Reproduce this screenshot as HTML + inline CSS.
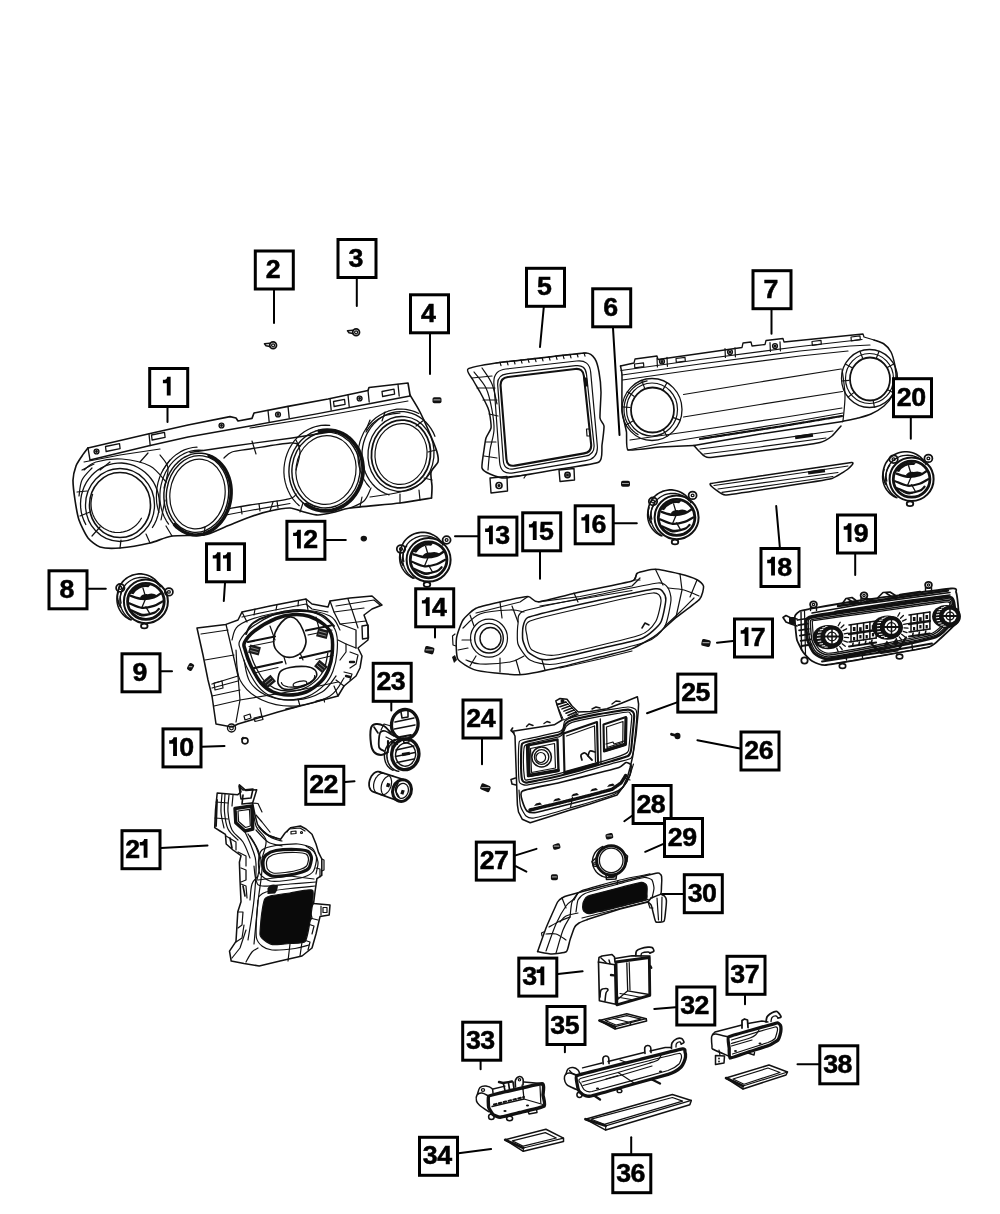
<!DOCTYPE html>
<html><head><meta charset="utf-8"><title>Instrument panel trim</title>
<style>
html,body{margin:0;padding:0;background:#fff;}
svg{display:block;will-change:transform;}
.n{font-family:"Liberation Sans",sans-serif;font-weight:bold;font-size:25px;text-anchor:middle;fill:#000;stroke:#000;stroke-width:0.5px;}
.m{letter-spacing:-0.6px;}
path,line,ellipse{stroke-linejoin:round;stroke-linecap:round;}
</style></head>
<body>
<svg width="1000" height="1214" viewBox="0 0 1000 1214">
<rect width="1000" height="1214" fill="#fff"/>
<path d="M88.0 448.0 L148.0 434.0 L188.0 425.0 L230.0 416.6 L236.0 418.0 L238.0 421.0 L252.0 418.4 L254.0 413.0 L288.0 406.4 L328.0 399.0 L368.0 390.5 L369.0 387.5 L408.0 383.0 L410.0 395.0" fill="none" stroke="#111" stroke-width="1.65" />
<path d="M410.0 395.0 C411.2 397.0 417.7 407.4 420.0 412.0 C422.3 416.6 428.0 429.3 430.0 434.0 C432.0 438.7 436.1 448.7 437.0 452.0 C437.9 455.3 438.7 459.7 438.0 462.0 C437.3 464.3 431.7 469.2 431.0 472.0 C430.3 474.8 431.9 483.0 432.0 486.0 C432.1 489.0 431.6 496.6 431.5 498.0" fill="none" stroke="#111" stroke-width="1.65"/>
<path d="M431.5 498.0 C427.8 498.6 409.5 501.8 400.0 503.0 C390.5 504.2 357.6 506.9 350.0 508.0 C342.4 509.1 338.7 511.2 335.0 512.0 C331.3 512.8 321.6 515.0 318.0 515.0 C314.4 515.0 307.3 512.8 304.0 512.0 C300.7 511.2 294.0 508.1 290.0 508.0 C286.0 507.9 274.7 509.9 270.0 511.0 C265.3 512.0 255.2 515.1 250.0 517.0 C244.8 518.9 230.4 524.9 225.0 527.0 C219.6 529.1 210.2 534.0 204.0 535.0 C197.8 536.0 178.3 535.1 172.0 536.0 C165.7 536.9 156.1 541.6 150.0 543.0 C143.9 544.4 125.8 547.5 120.0 548.0 C114.2 548.5 103.7 548.2 100.0 547.0 C96.3 545.8 90.5 541.1 88.0 538.0 C85.5 534.9 80.5 524.4 79.0 520.0 C77.5 515.6 75.7 504.7 75.0 500.0 C74.3 495.3 72.9 484.0 73.0 480.0 C73.1 476.0 75.0 468.8 76.0 466.0 C77.0 463.2 80.6 458.1 82.0 456.0 C83.4 453.9 87.3 448.9 88.0 448.0" fill="none" stroke="#111" stroke-width="1.65"/>
<path d="M90.0 460.0 L148.0 446.0 L188.0 437.0 L250.0 426.0 L318.0 413.6 L368.0 404.0 L410.0 396.0" fill="none" stroke="#111" stroke-width="1.42" />
<path d="M88.0 448.0 L90.0 460.0" fill="none" stroke="#111" stroke-width="1.42" />
<line x1="149.0" y1="434.0" x2="150.2" y2="445.5" stroke="#111" stroke-width="1.3"/>
<line x1="268.0" y1="410.5" x2="269.2" y2="422.0" stroke="#111" stroke-width="1.3"/>
<line x1="288.0" y1="406.4" x2="289.2" y2="417.9" stroke="#111" stroke-width="1.3"/>
<line x1="330.0" y1="398.6" x2="331.2" y2="410.1" stroke="#111" stroke-width="1.3"/>
<line x1="348.0" y1="395.0" x2="349.2" y2="406.5" stroke="#111" stroke-width="1.3"/>
<line x1="368.0" y1="390.5" x2="369.2" y2="402.0" stroke="#111" stroke-width="1.3"/>
<line x1="398.0" y1="384.5" x2="399.2" y2="396.0" stroke="#111" stroke-width="1.3"/>
<path d="M105.5 446.5 L119.5 443.7 L120.1 448.7 L106.1 451.5Z" fill="none" stroke="#111" stroke-width="1.3" />
<path d="M151.5 435.0 L164.5 432.4 L165.1 437.4 L152.1 440.0Z" fill="none" stroke="#111" stroke-width="1.3" />
<path d="M333.5 401.5 L344.5 399.3 L345.1 404.3 L334.1 406.5Z" fill="none" stroke="#111" stroke-width="1.3" />
<path d="M382.0 391.5 L394.0 389.1 L394.6 394.1 L382.6 396.5Z" fill="none" stroke="#111" stroke-width="1.3" />
<ellipse cx="96.5" cy="451.5" rx="2.4" ry="2.4" fill="none" stroke="#111" stroke-width="1.42"/>
<ellipse cx="96.5" cy="451.5" rx="0.8" ry="0.8" fill="#111" stroke="#111" stroke-width="1.2"/>
<ellipse cx="221.5" cy="425.5" rx="2.4" ry="2.4" fill="none" stroke="#111" stroke-width="1.42"/>
<ellipse cx="221.5" cy="425.5" rx="0.8" ry="0.8" fill="#111" stroke="#111" stroke-width="1.2"/>
<ellipse cx="278.0" cy="414.5" rx="2.4" ry="2.4" fill="none" stroke="#111" stroke-width="1.42"/>
<ellipse cx="278.0" cy="414.5" rx="0.8" ry="0.8" fill="#111" stroke="#111" stroke-width="1.2"/>
<ellipse cx="359.6" cy="398.5" rx="2.4" ry="2.4" fill="none" stroke="#111" stroke-width="1.42"/>
<ellipse cx="359.6" cy="398.5" rx="0.8" ry="0.8" fill="#111" stroke="#111" stroke-width="1.2"/>
<path d="M190.0 452.5 L230.0 446.5 L292.0 438.0 L330.0 432.0" fill="none" stroke="#111" stroke-width="1.3" />
<path d="M84.0 462.0 L120.0 455.0 L160.0 449.0" fill="none" stroke="#111" stroke-width="1.2" />
<path d="M224.0 458.0 C225.3 457.0 227.7 453.5 232.0 452.0 C236.3 450.5 240.3 450.5 250.0 449.0 C259.7 447.5 281.7 443.5 290.0 443.0 C298.3 442.5 298.3 445.5 300.0 446.0" fill="none" stroke="#111" stroke-width="1.3"/>
<path d="M230.0 508.5 C233.3 507.9 240.2 506.6 250.0 505.0 C259.8 503.4 281.3 500.6 289.0 498.8 C296.7 497.0 294.8 494.8 296.0 494.0" fill="none" stroke="#111" stroke-width="1.3"/>
<path d="M226.0 515.0 C230.0 514.2 239.3 512.4 250.0 510.5 C260.7 508.6 283.3 504.7 290.0 503.5" fill="none" stroke="#111" stroke-width="1.2"/>
<path d="M252.0 441.0 L256.0 454.0" fill="none" stroke="#111" stroke-width="1.2" />
<path d="M241.0 507.0 L242.0 514.0" fill="none" stroke="#111" stroke-width="1.2" />
<path d="M259.0 504.0 L260.0 511.0" fill="none" stroke="#111" stroke-width="1.2" />
<path d="M277.0 501.0 L278.0 508.0" fill="none" stroke="#111" stroke-width="1.2" />
<path d="M250.0 428.0 L318.0 417.0 L368.0 408.0 L408.0 401.0" fill="none" stroke="#111" stroke-width="1.2" />
<ellipse cx="120.0" cy="505.0" rx="30.5" ry="32.5" fill="none" stroke="#111" stroke-width="1.65"/>
<ellipse cx="120.0" cy="505.0" rx="34.5" ry="36.5" fill="none" stroke="#111" stroke-width="1.3"/>
<path d="M85.8 524.5 L83.9 520.6 L82.4 516.5 L81.3 512.3 L80.7 507.9 L80.5 503.6 L80.8 499.2 L81.5 494.9 L82.7 490.7 L84.2 486.6 L86.2 482.7 L88.6 479.1 L91.3 475.8 L94.4 472.8 L97.8 470.1 L101.4 467.8 L105.2 466.0 L109.2 464.6 L113.3 463.6 L117.5 463.1 L121.7 463.0 L125.9 463.5 L130.1 464.4 L134.1 465.7 L137.9 467.5 L141.6 469.7 L145.0 472.2 L148.1 475.2 L150.9 478.5 L153.4 482.0 L155.4 485.9 L157.1 489.9 L158.3 494.1 L159.1 498.4 L159.5 502.7 L159.4 507.1 L158.8 511.5 L157.8 515.7 L156.4 519.9 L154.6 523.8 L152.4 527.5" fill="none" stroke="#111" stroke-width="1.3" />
<path d="M141.4 518.2 L139.8 520.8 L138.0 523.1 L136.0 525.3 L133.8 527.1 L131.4 528.8 L128.8 530.1 L126.1 531.2 L123.3 531.9 L120.5 532.4 L117.7 532.5 L114.8 532.3 L112.0 531.8 L109.2 531.0 L106.6 529.8 L104.1 528.4 L101.7 526.7 L99.5 524.8 L97.5 522.6 L95.8 520.2 L94.3 517.6 L93.1 514.9 L92.1 512.1 L91.4 509.1 L91.1 506.1 L91.0 503.1 L91.3 500.1 L91.8 497.1 L92.6 494.3" fill="none" stroke="#111" stroke-width="1.2" />
<path d="M84.0 470.0 C86.0 468.7 89.7 463.8 96.0 462.0 C102.3 460.2 113.0 458.3 122.0 459.0 C131.0 459.7 142.7 462.2 150.0 466.0 C157.3 469.8 163.3 479.3 166.0 482.0" fill="none" stroke="#111" stroke-width="1.2"/>
<path d="M79.0 496.0 C79.5 493.3 79.8 484.7 82.0 480.0 C84.2 475.3 90.3 470.0 92.0 468.0" fill="none" stroke="#111" stroke-width="1.2"/>
<ellipse cx="197.5" cy="494.0" rx="31.0" ry="38.5" fill="none" stroke="#111" stroke-width="1.42" transform="rotate(8.0 197.5 494.0)"/>
<ellipse cx="197.5" cy="494.0" rx="27.5" ry="35.0" fill="none" stroke="#111" stroke-width="1.2" transform="rotate(8.0 197.5 494.0)"/>
<path d="M209.2 455.8 L212.4 457.2 L215.5 459.1 L218.4 461.3 L221.0 463.9 L223.4 466.8 L225.5 470.0 L227.3 473.6 L228.8 477.3 L229.9 481.2 L230.7 485.3 L231.1 489.5 L231.1 493.7 L230.8 498.0 L230.1 502.2 L229.1 506.3 L227.7 510.3 L226.0 514.1 L224.0 517.7 L221.7 521.0 L219.1 524.1 L216.3 526.8 L213.3 529.2 L210.2 531.1 L206.9 532.7 L203.5 533.9 L200.0 534.6 L196.5 534.9 L193.0 534.7 L189.6 534.1 L186.3 533.0 L183.1 531.5 L180.1 529.6 L177.2 527.4 L174.6 524.7" fill="none" stroke="#111" stroke-width="3.54" />
<path d="M173.8 524.6 L171.4 521.5 L169.2 518.0 L167.4 514.3 L166.0 510.4 L164.9 506.3 L164.2 502.0 L163.9 497.6 L163.9 493.2 L164.4 488.8 L165.3 484.4 L166.5 480.2 L168.1 476.1 L170.0 472.3 L172.3 468.6 L174.9 465.3 L177.7 462.4 L180.8 459.7 L184.0 457.5 L187.4 455.8 L190.9 454.4 L194.5 453.6 L198.2 453.2 L201.8 453.2 L205.4 453.8 L208.9 454.8" fill="none" stroke="#111" stroke-width="1.42" />
<path d="M168.6 524.1 L166.2 520.6 L164.2 516.7 L162.5 512.6 L161.3 508.3 L160.4 503.8 L159.9 499.2 L159.9 494.6 L160.2 489.9 L161.0 485.3 L162.2 480.8 L163.7 476.4 L165.6 472.3 L167.9 468.4 L170.5 464.7 L173.4 461.4 L176.5 458.5 L179.9 456.0 L183.5 453.9 L187.2 452.2 L191.0 451.0 L194.9 450.3 L198.8 450.1 L202.6 450.4" fill="none" stroke="#111" stroke-width="1.2" />
<path d="M158.9 512.5 L157.6 507.7 L156.7 502.8 L156.4 497.8 L156.5 492.7 L157.0 487.6 L158.0 482.6 L159.5 477.7 L161.4 473.1 L163.7 468.7 L166.4 464.5 L169.4 460.8 L172.8 457.4 L176.4 454.4 L180.3 451.9 L184.3 449.9 L188.5 448.5 L192.7 447.5 L197.0 447.1" fill="none" stroke="#111" stroke-width="1.2" />
<ellipse cx="326.0" cy="470.0" rx="34.0" ry="38.0" fill="none" stroke="#111" stroke-width="1.42" transform="rotate(8.0 326.0 470.0)"/>
<ellipse cx="326.0" cy="470.0" rx="30.0" ry="34.5" fill="none" stroke="#111" stroke-width="1.2" transform="rotate(8.0 326.0 470.0)"/>
<path d="M319.4 431.1 L323.3 430.3 L327.2 430.1 L331.0 430.3 L334.8 430.9 L338.6 432.0 L342.2 433.5 L345.6 435.4 L348.8 437.7 L351.7 440.4 L354.4 443.5 L356.7 446.8 L358.8 450.4 L360.4 454.2 L361.7 458.2 L362.5 462.4 L363.0 466.6 L363.1 470.9 L362.7 475.2 L361.9 479.4 L360.8 483.6 L359.2 487.5 L357.3 491.3 L355.0 494.9 L352.5 498.2 L349.6 501.1 L346.4 503.7 L343.1 506.0 L339.5 507.8 L335.8 509.3 L332.0 510.3 L328.2 510.8 L324.3 510.9 L320.4 510.5 L316.7 509.7 L313.0 508.5 L309.4 506.8 L306.1 504.7" fill="none" stroke="#111" stroke-width="3.78" />
<path d="M305.3 504.6 L302.2 502.1 L299.3 499.2 L296.7 496.0 L294.4 492.4 L292.5 488.6 L291.0 484.6 L289.9 480.5 L289.2 476.2 L288.9 471.8 L289.1 467.4 L289.6 463.1 L290.6 458.8 L292.0 454.7 L293.8 450.7 L296.0 447.0 L298.5 443.5 L301.3 440.3 L304.4 437.5 L307.7 435.0 L311.3 432.9 L315.0 431.3 L318.8 430.1" fill="none" stroke="#111" stroke-width="1.42" />
<path d="M299.3 505.7 L296.0 502.6 L293.0 499.1 L290.4 495.3 L288.3 491.1 L286.5 486.7 L285.2 482.2 L284.3 477.4 L283.9 472.6 L284.0 467.8 L284.6 463.0 L285.6 458.3 L287.1 453.7 L289.0 449.3 L291.4 445.1 L294.1 441.2 L297.2 437.7 L300.6 434.5 L304.3 431.8 L308.2 429.5 L312.4 427.6 L316.6 426.3 L321.0 425.4 L325.4 425.1 L329.8 425.3" fill="none" stroke="#111" stroke-width="1.2" />
<ellipse cx="401.0" cy="454.0" rx="29.5" ry="34.0" fill="none" stroke="#111" stroke-width="1.77" transform="rotate(6.0 401.0 454.0)"/>
<ellipse cx="401.0" cy="454.0" rx="26.0" ry="30.5" fill="none" stroke="#111" stroke-width="1.2" transform="rotate(6.0 401.0 454.0)"/>
<ellipse cx="401.0" cy="454.0" rx="33.0" ry="37.5" fill="none" stroke="#111" stroke-width="1.3" transform="rotate(6.0 401.0 454.0)"/>
<path d="M389.1 494.9 L385.3 493.5 L381.7 491.7 L378.2 489.4 L375.1 486.7 L372.2 483.7 L369.6 480.3 L367.4 476.7 L365.5 472.8 L364.0 468.6 L362.9 464.3 L362.2 459.9 L362.0 455.5 L362.1 451.0 L362.7 446.6 L363.7 442.2 L365.1 438.0 L366.9 433.9 L369.1 430.1 L371.6 426.5 L374.4 423.2 L377.5 420.3 L380.9 417.8 L384.5 415.7 L388.2 413.9 L392.1 412.7 L396.1 411.9 L400.1 411.6 L404.1 411.7 L408.1 412.3 L411.9 413.4 L415.7 414.9 L419.2 416.9 L422.6 419.3 L425.7 422.0 L428.5 425.2 L431.0 428.6 L433.2 432.3 L434.9 436.3" fill="none" stroke="#111" stroke-width="1.3" />
<path d="M369.5 487.2 L366.5 483.5 L364.0 479.5 L361.9 475.2 L360.2 470.6 L359.0 465.9 L358.2 461.1 L358.0 456.2 L358.2 451.2 L358.9 446.3 L360.0 441.5 L361.7 436.9 L363.7 432.5 L366.2 428.3 L369.1 424.5 L372.3 421.0 L375.9 417.8 L379.7 415.2 L383.8 412.9 L388.1 411.2 L392.4 410.0 L396.9 409.2 L401.4 409.0 L405.9 409.4 L410.4 410.3 L414.7 411.6 L418.8 413.5" fill="none" stroke="#111" stroke-width="1.2" />
<line x1="82.0" y1="470.0" x2="94.0" y2="464.0" stroke="#111" stroke-width="1.2"/>
<line x1="77.0" y1="492.0" x2="87.0" y2="491.0" stroke="#111" stroke-width="1.2"/>
<line x1="80.0" y1="516.0" x2="90.0" y2="512.0" stroke="#111" stroke-width="1.2"/>
<line x1="92.0" y1="536.0" x2="100.0" y2="527.0" stroke="#111" stroke-width="1.2"/>
<line x1="120.0" y1="548.0" x2="121.0" y2="540.0" stroke="#111" stroke-width="1.2"/>
<line x1="150.0" y1="543.0" x2="146.0" y2="534.0" stroke="#111" stroke-width="1.2"/>
<line x1="172.0" y1="536.0" x2="166.0" y2="526.0" stroke="#111" stroke-width="1.2"/>
<line x1="163.0" y1="470.0" x2="170.0" y2="460.0" stroke="#111" stroke-width="1.2"/>
<line x1="165.0" y1="500.0" x2="161.0" y2="520.0" stroke="#111" stroke-width="1.2"/>
<line x1="204.0" y1="535.0" x2="205.0" y2="527.0" stroke="#111" stroke-width="1.2"/>
<line x1="270.0" y1="511.0" x2="273.0" y2="502.0" stroke="#111" stroke-width="1.2"/>
<line x1="360.0" y1="507.0" x2="362.0" y2="497.0" stroke="#111" stroke-width="1.2"/>
<line x1="432.0" y1="480.0" x2="424.0" y2="478.0" stroke="#111" stroke-width="1.2"/>
<line x1="436.0" y1="450.0" x2="428.0" y2="452.0" stroke="#111" stroke-width="1.2"/>
<line x1="424.0" y1="420.0" x2="416.0" y2="426.0" stroke="#111" stroke-width="1.2"/>
<line x1="385.0" y1="412.0" x2="382.0" y2="421.0" stroke="#111" stroke-width="1.2"/>
<line x1="140.0" y1="462.0" x2="148.0" y2="453.0" stroke="#111" stroke-width="1.2"/>
<line x1="100.0" y1="470.0" x2="110.0" y2="462.0" stroke="#111" stroke-width="1.2"/>
<line x1="300.0" y1="512.0" x2="303.0" y2="503.0" stroke="#111" stroke-width="1.2"/>
<line x1="400.0" y1="503.0" x2="400.0" y2="494.0" stroke="#111" stroke-width="1.2"/>
<line x1="370.0" y1="420.0" x2="366.0" y2="430.0" stroke="#111" stroke-width="1.2"/>
<line x1="420.0" y1="500.0" x2="419.0" y2="490.0" stroke="#111" stroke-width="1.2"/>
<path d="M160.0 455.0 C161.3 457.2 167.3 462.5 168.0 468.0 C168.7 473.5 164.7 484.7 164.0 488.0" fill="none" stroke="#111" stroke-width="1.2"/>
<path d="M350.0 508.0 C352.3 506.8 360.5 504.3 364.0 501.0 C367.5 497.7 369.8 490.2 371.0 488.0" fill="none" stroke="#111" stroke-width="1.2"/>
<path d="M296.0 440.0 C296.7 442.0 300.0 447.0 300.0 452.0 C300.0 457.0 296.7 467.0 296.0 470.0" fill="none" stroke="#111" stroke-width="1.2"/>
<path d="M366.0 432.0 C367.0 430.7 369.0 426.7 372.0 424.0 C375.0 421.3 379.3 417.8 384.0 416.0 C388.7 414.2 397.3 413.5 400.0 413.0" fill="none" stroke="#111" stroke-width="1.2"/>
<path d="M431.0 472.0 C429.2 474.0 425.2 480.7 420.0 484.0 C414.8 487.3 408.3 489.8 400.0 492.0 C391.7 494.2 375.0 496.2 370.0 497.0" fill="none" stroke="#111" stroke-width="1.2"/>
<path d="M468.0 369.0 C470.3 367.3 488.8 364.1 496.0 363.0 C503.2 361.9 531.0 359.0 540.0 358.0 C549.0 357.0 580.5 352.9 586.0 353.0 C591.5 353.1 593.7 357.1 595.0 359.0 C596.3 360.9 598.4 368.7 599.0 372.0 C599.6 375.3 600.9 387.4 601.0 392.0 C601.1 396.6 599.7 414.6 600.0 418.0 C600.3 421.4 603.8 423.3 604.0 426.0 C604.2 428.7 602.5 441.4 602.0 445.0 C601.5 448.6 603.2 459.6 599.0 462.0 C594.8 464.4 569.3 467.4 560.0 469.0 C550.7 470.6 513.0 477.5 506.0 478.0 C499.0 478.5 492.4 475.0 490.0 474.0 C487.6 473.0 482.6 470.4 482.0 468.0 C481.4 465.6 483.6 453.0 484.0 450.0 C484.4 447.0 485.3 440.2 486.0 438.0 C486.7 435.8 490.6 430.2 491.0 428.0 C491.4 425.8 490.3 418.0 490.0 416.0 C489.7 414.0 489.0 410.4 488.0 408.0 C487.0 405.6 481.5 394.8 480.0 392.0 C478.5 389.2 474.2 382.3 473.0 380.0 C471.8 377.7 465.7 370.7 468.0 369.0Z" fill="none" stroke="#111" stroke-width="1.53"/>
<path d="M500.6 386.0 Q500.0 378.0 507.9 377.0 L575.1 369.0 Q583.0 368.0 583.9 376.0 L591.1 444.0 Q592.0 452.0 584.1 453.4 L514.9 465.6 Q507.0 467.0 506.4 459.0 Z" fill="none" stroke="#111" stroke-width="2.12" />
<path d="M497.7 385.0 Q497.0 375.0 506.9 373.8 L575.6 365.7 Q585.5 364.5 586.5 374.4 L594.0 444.6 Q595.0 454.5 585.2 456.2 L513.8 468.8 Q504.0 470.5 503.3 460.5 Z" fill="none" stroke="#111" stroke-width="1.2" />
<path d="M493.9 383.5 Q493.0 370.5 505.9 369.0 L576.6 361.0 Q589.5 359.5 590.7 372.4 L597.3 445.6 Q598.5 458.5 585.7 460.7 L513.3 472.8 Q500.5 475.0 499.6 462.0 Z" fill="none" stroke="#111" stroke-width="1.2" />
<line x1="496.0" y1="363.0" x2="586.0" y2="353.0" stroke="#111" stroke-width="1.2"/>
<line x1="500.0" y1="362.2" x2="501.0" y2="365.6" stroke="#111" stroke-width="1.2"/>
<line x1="507.0" y1="361.4" x2="508.0" y2="364.8" stroke="#111" stroke-width="1.2"/>
<line x1="514.0" y1="360.6" x2="515.0" y2="364.0" stroke="#111" stroke-width="1.2"/>
<line x1="521.0" y1="359.8" x2="522.0" y2="363.2" stroke="#111" stroke-width="1.2"/>
<line x1="528.0" y1="359.0" x2="529.0" y2="362.4" stroke="#111" stroke-width="1.2"/>
<line x1="535.0" y1="358.3" x2="536.0" y2="361.7" stroke="#111" stroke-width="1.2"/>
<line x1="542.0" y1="357.5" x2="543.0" y2="360.9" stroke="#111" stroke-width="1.2"/>
<line x1="549.0" y1="356.7" x2="550.0" y2="360.1" stroke="#111" stroke-width="1.2"/>
<line x1="556.0" y1="355.9" x2="557.0" y2="359.3" stroke="#111" stroke-width="1.2"/>
<line x1="563.0" y1="355.2" x2="564.0" y2="358.6" stroke="#111" stroke-width="1.2"/>
<line x1="570.0" y1="354.4" x2="571.0" y2="357.8" stroke="#111" stroke-width="1.2"/>
<line x1="577.0" y1="353.6" x2="578.0" y2="357.0" stroke="#111" stroke-width="1.2"/>
<line x1="584.0" y1="352.8" x2="585.0" y2="356.2" stroke="#111" stroke-width="1.2"/>
<path d="M474.0 372.0 C476.0 374.7 483.0 381.7 486.0 388.0 C489.0 394.3 490.7 403.0 492.0 410.0 C493.3 417.0 494.3 423.3 494.0 430.0 C493.7 436.7 491.0 443.3 490.0 450.0 C489.0 456.7 488.3 466.7 488.0 470.0" fill="none" stroke="#111" stroke-width="1.2"/>
<path d="M482.0 368.0 C483.7 370.7 489.5 378.0 492.0 384.0 C494.5 390.0 496.2 400.7 497.0 404.0" fill="none" stroke="#111" stroke-width="1.2"/>
<line x1="472.0" y1="378.0" x2="492.0" y2="376.0" stroke="#111" stroke-width="1.2"/>
<line x1="477.0" y1="388.0" x2="495.0" y2="388.0" stroke="#111" stroke-width="1.2"/>
<line x1="483.0" y1="400.0" x2="497.0" y2="400.0" stroke="#111" stroke-width="1.2"/>
<line x1="489.0" y1="414.0" x2="498.0" y2="416.0" stroke="#111" stroke-width="1.2"/>
<line x1="486.0" y1="442.0" x2="496.0" y2="442.0" stroke="#111" stroke-width="1.2"/>
<line x1="484.0" y1="456.0" x2="497.0" y2="458.0" stroke="#111" stroke-width="1.2"/>
<path d="M490.0 478.0 L507.0 476.5 L507.5 491.0 L491.0 493.0Z" fill="none" stroke="#111" stroke-width="1.42" />
<ellipse cx="499.0" cy="485.5" rx="3.0" ry="3.0" fill="none" stroke="#111" stroke-width="1.65"/>
<ellipse cx="499.0" cy="485.5" rx="1.0" ry="1.0" fill="#111" stroke="#111" stroke-width="1.2"/>
<path d="M559.0 470.0 L574.0 468.5 L574.5 480.0 L560.0 481.5Z" fill="none" stroke="#111" stroke-width="1.42" />
<ellipse cx="567.5" cy="475.0" rx="2.6" ry="2.6" fill="none" stroke="#111" stroke-width="1.65"/>
<ellipse cx="567.5" cy="475.0" rx="0.9" ry="0.9" fill="#111" stroke="#111" stroke-width="1.2"/>
<line x1="507.0" y1="477.0" x2="526.0" y2="475.0" stroke="#111" stroke-width="1.2"/>
<line x1="526.0" y1="475.0" x2="524.0" y2="478.0" stroke="#111" stroke-width="1.2"/>
<path d="M584.0 378.0 L586.5 378.0 L587.5 386.0 L585.0 386.0Z" fill="#111" stroke="#111" stroke-width="1.2" />
<path d="M586.5 429.0 L589.5 429.0 L590.0 436.0 L587.0 436.0Z" fill="none" stroke="#111" stroke-width="1.2" />
<path d="M620.5 366.0 C620.6 366.6 621.9 372.0 622.0 375.0 C622.1 378.0 621.7 407.2 622.0 411.0 C622.3 414.8 626.1 429.4 626.5 432.0 C626.9 434.6 625.8 449.0 628.0 450.0 C630.2 451.0 655.6 447.3 660.0 447.0 C664.4 446.7 691.7 445.6 694.0 445.5" fill="none" stroke="#111" stroke-width="1.53"/>
<path d="M694.0 445.5 L760.0 434.0 L842.5 421.5" fill="none" stroke="#111" stroke-width="1.42" />
<path d="M842.5 421.5 C844.6 421.0 854.2 419.0 858.0 418.0 C861.8 417.0 867.5 415.6 871.0 414.0 C874.5 412.4 881.2 408.4 884.0 406.0 C886.8 403.6 890.4 399.5 892.0 396.0 C893.6 392.5 895.6 384.0 896.0 380.0 C896.4 376.0 895.7 369.7 895.0 366.0 C894.3 362.3 892.5 354.9 891.0 352.0 C889.5 349.1 886.3 345.6 884.0 344.0 C881.7 342.4 875.3 340.5 874.0 340.0" fill="none" stroke="#111" stroke-width="1.53"/>
<path d="M620.5 366.0 L634.0 363.0 L635.0 359.0 L657.0 356.0 L658.0 359.5 L742.0 347.5 L743.0 343.0 L751.0 342.0 L752.0 346.0 L765.0 344.5 L766.0 340.5 L783.0 338.5 L784.0 342.0 L863.0 334.0 L864.0 337.0 L874.0 340.0" fill="none" stroke="#111" stroke-width="1.3" />
<path d="M622.0 375.0 L700.0 364.0 L800.0 351.0 L850.0 346.0 L870.0 345.0" fill="none" stroke="#111" stroke-width="1.2" />
<path d="M622.5 380.0 L700.0 369.0 L800.0 356.0 L848.0 351.0" fill="none" stroke="#111" stroke-width="1.2" />
<path d="M634.5 364.0 L643.5 362.8 L643.8 366.6 L634.8 367.8Z" fill="none" stroke="#111" stroke-width="1.2" />
<path d="M676.0 358.5 L685.0 357.3 L685.3 361.1 L676.3 362.3Z" fill="none" stroke="#111" stroke-width="1.2" />
<path d="M812.0 341.5 L821.0 340.3 L821.3 344.1 L812.3 345.3Z" fill="none" stroke="#111" stroke-width="1.2" />
<path d="M851.0 337.0 L860.0 335.8 L860.3 339.6 L851.3 340.8Z" fill="none" stroke="#111" stroke-width="1.2" />
<ellipse cx="662.0" cy="361.5" rx="2.4" ry="2.4" fill="none" stroke="#111" stroke-width="1.42"/>
<ellipse cx="662.0" cy="361.5" rx="0.9" ry="0.9" fill="#111" stroke="#111" stroke-width="1.2"/>
<line x1="657.0" y1="358.0" x2="657.4" y2="367.0" stroke="#111" stroke-width="1.2"/>
<line x1="667.0" y1="357.3" x2="667.4" y2="366.3" stroke="#111" stroke-width="1.2"/>
<ellipse cx="730.0" cy="352.0" rx="2.4" ry="2.4" fill="none" stroke="#111" stroke-width="1.42"/>
<ellipse cx="730.0" cy="352.0" rx="0.9" ry="0.9" fill="#111" stroke="#111" stroke-width="1.2"/>
<line x1="725.0" y1="348.5" x2="725.4" y2="357.5" stroke="#111" stroke-width="1.2"/>
<line x1="735.0" y1="347.8" x2="735.4" y2="356.8" stroke="#111" stroke-width="1.2"/>
<ellipse cx="775.0" cy="346.0" rx="2.4" ry="2.4" fill="none" stroke="#111" stroke-width="1.42"/>
<ellipse cx="775.0" cy="346.0" rx="0.9" ry="0.9" fill="#111" stroke="#111" stroke-width="1.2"/>
<line x1="770.0" y1="342.5" x2="770.4" y2="351.5" stroke="#111" stroke-width="1.2"/>
<line x1="780.0" y1="341.8" x2="780.4" y2="350.8" stroke="#111" stroke-width="1.2"/>
<path d="M621.0 370.5 L700.0 359.5 L800.0 346.5 L862.0 339.5" fill="none" stroke="#111" stroke-width="1.2" />
<path d="M683.5 394.5 L760.0 382.0 L841.0 369.0" fill="none" stroke="#111" stroke-width="1.2" />
<path d="M683.5 417.0 L760.0 404.5 L842.5 391.5" fill="none" stroke="#111" stroke-width="1.2" />
<path d="M628.0 450.0 L660.0 443.5 L700.0 437.0 L780.0 424.0 L843.0 413.0" fill="none" stroke="#111" stroke-width="1.2" />
<path d="M630.0 440.0 L700.0 430.0 L780.0 418.0 L842.0 408.0" fill="none" stroke="#111" stroke-width="1.2" />
<path d="M700 439 L780 426.5 L842 416" fill="none" stroke="#111" stroke-width="2.2" stroke-dasharray="1.4 1.2"/>
<ellipse cx="652.0" cy="409.5" rx="30.0" ry="31.0" fill="none" stroke="#111" stroke-width="1.3"/>
<ellipse cx="652.0" cy="409.5" rx="25.5" ry="26.5" fill="none" stroke="#111" stroke-width="1.2"/>
<ellipse cx="652.5" cy="410.0" rx="21.5" ry="22.5" fill="none" stroke="#111" stroke-width="1.77"/>
<path d="M638.0 434.6 L635.5 432.9 L633.2 431.0 L631.1 428.8 L629.2 426.4 L627.6 423.8 L626.3 421.1 L625.3 418.2 L624.5 415.2 L624.1 412.1 L624.0 409.1 L624.2 406.0 L624.7 403.0 L625.5 400.0 L626.7 397.1 L628.1 394.4 L629.8 391.9 L631.7 389.5 L633.8 387.4 L636.2 385.6 L638.7 384.0 L641.4 382.6 L644.2 381.6 L647.1 380.9" fill="none" stroke="#111" stroke-width="1.2" />
<line x1="632.9" y1="421.0" x2="626.0" y2="425.0" stroke="#111" stroke-width="1.2"/>
<line x1="630.1" y1="407.5" x2="622.1" y2="406.8" stroke="#111" stroke-width="1.2"/>
<line x1="634.0" y1="396.3" x2="627.4" y2="391.7" stroke="#111" stroke-width="1.2"/>
<line x1="644.5" y1="387.9" x2="641.7" y2="380.4" stroke="#111" stroke-width="1.2"/>
<line x1="663.0" y1="389.6" x2="667.0" y2="382.7" stroke="#111" stroke-width="1.2"/>
<line x1="672.7" y1="417.4" x2="680.2" y2="420.1" stroke="#111" stroke-width="1.2"/>
<line x1="663.0" y1="429.4" x2="667.0" y2="436.3" stroke="#111" stroke-width="1.2"/>
<ellipse cx="869.5" cy="378.5" rx="28.0" ry="29.0" fill="none" stroke="#111" stroke-width="1.3"/>
<ellipse cx="869.5" cy="378.5" rx="24.0" ry="25.0" fill="none" stroke="#111" stroke-width="1.2"/>
<ellipse cx="870.0" cy="379.0" rx="20.0" ry="21.5" fill="none" stroke="#111" stroke-width="1.77"/>
<line x1="853.8" y1="392.6" x2="848.1" y2="397.1" stroke="#111" stroke-width="1.2"/>
<line x1="849.1" y1="380.4" x2="841.6" y2="381.0" stroke="#111" stroke-width="1.2"/>
<line x1="851.7" y1="367.5" x2="845.3" y2="364.0" stroke="#111" stroke-width="1.2"/>
<line x1="862.5" y1="357.8" x2="859.9" y2="351.2" stroke="#111" stroke-width="1.2"/>
<line x1="876.5" y1="357.8" x2="879.1" y2="351.2" stroke="#111" stroke-width="1.2"/>
<line x1="887.3" y1="367.5" x2="893.7" y2="364.0" stroke="#111" stroke-width="1.2"/>
<line x1="887.3" y1="389.5" x2="893.7" y2="393.0" stroke="#111" stroke-width="1.2"/>
<line x1="873.1" y1="400.2" x2="874.4" y2="407.1" stroke="#111" stroke-width="1.2"/>
<path d="M842.0 369.0 C842.5 373.3 844.8 386.3 845.0 395.0 C845.2 403.7 843.3 416.7 843.0 421.0" fill="none" stroke="#111" stroke-width="1.2"/>
<path d="M694.0 445.5 C694.5 446.0 698.8 451.0 700.0 452.0 C701.2 453.0 704.0 457.6 709.0 457.5 C714.0 457.4 750.8 452.2 760.0 451.0 C769.2 449.8 814.0 443.8 820.0 442.5 C826.0 441.2 830.2 437.4 832.0 436.0 C833.8 434.6 840.2 426.8 841.0 426.0" fill="none" stroke="#111" stroke-width="1.53"/>
<path d="M700.0 449.0 L760.0 441.5 L833.0 431.0" fill="none" stroke="#111" stroke-width="1.2" />
<path d="M704.0 454.0 L760.0 447.0 L826.0 438.0" fill="none" stroke="#111" stroke-width="1.2" />
<rect x="795" y="434.5" width="18" height="3.6" fill="#111" transform="rotate(-8 804 436)"/>
<path d="M710.5 483.6 C712.7 482.9 753.0 477.1 760.0 476.0 C767.0 474.9 847.1 463.0 851.5 462.6 C855.9 462.2 849.0 468.2 848.0 469.0 C847.0 469.8 835.4 477.6 832.0 478.5 C828.6 479.4 785.3 486.2 780.0 487.0 C774.7 487.8 728.7 494.9 725.5 495.0 C722.3 495.1 716.8 490.6 716.0 490.0 C715.2 489.4 708.3 484.3 710.5 483.6Z" fill="none" stroke="#111" stroke-width="1.53"/>
<path d="M714.0 485.5 L780.0 476.0 L848.0 466.0" fill="none" stroke="#111" stroke-width="1.2" />
<path d="M718.0 489.0 L780.0 480.5 L838.0 472.5" fill="none" stroke="#111" stroke-width="1.2" />
<path d="M722.0 492.3 L780.0 484.0 L833.0 476.5" fill="none" stroke="#111" stroke-width="1.2" />
<rect x="808" y="470" width="17" height="3.4" fill="#111" transform="rotate(-8 816 471.5)"/>
<path d="M120.4 606.9 L119.3 604.8 L118.5 602.6 L117.9 600.3 L117.5 597.9 L117.4 595.6 L117.6 593.2 L118.0 590.9 L118.7 588.6 L119.6 586.4 L120.7 584.4 L122.1 582.4 L123.7 580.6 L125.5 579.0 L127.4 577.6 L129.5 576.4 L131.7 575.4 L134.0 574.7 L136.4 574.2 L138.8 573.9 L141.2 573.9 L143.6 574.2 L146.0 574.7 L148.3 575.5 L150.5 576.5 L152.5 577.7 L154.5 579.1 L156.2 580.8 L157.8 582.6 L159.2 584.5 L160.3 586.6" fill="none" stroke="#111" stroke-width="1.65" />
<path d="M121.1 603.2 L120.7 601.0 L120.4 598.8 L120.4 596.6 L120.7 594.4 L121.2 592.2 L122.0 590.2 L123.0 588.1 L124.2 586.3 L125.6 584.5 L127.2 582.9 L129.0 581.5 L131.0 580.3 L133.0 579.2 L135.2 578.4 L137.4 577.8 L139.7 577.5 L142.1 577.4 L144.4 577.5 L146.7 577.9 L148.9 578.5 L151.1 579.4 L153.1 580.4 L155.0 581.7 L156.8 583.1 L158.4 584.7" fill="none" stroke="#111" stroke-width="1.3" />
<path d="M130.5 619.8 L128.3 618.7 L126.2 617.3 L124.3 615.8 L122.6 614.1 L121.1 612.2 L119.8 610.2 L118.7 608.0 L117.9 605.8 L117.3 603.4 L117.0 601.1 L116.9 598.7 L117.1 596.3 L117.6 594.0 L118.3 591.7" fill="none" stroke="#111" stroke-width="1.53" />
<path d="M131.4 619.9 L129.3 618.5 L127.3 616.9 L125.5 615.2 L124.0 613.2 L122.7 611.1 L121.6 608.8 L120.8 606.5 L120.2 604.0 L119.9 601.6 L119.9 599.1 L120.2 596.6 L120.8 594.2 L121.6 591.9 L122.7 589.6 L124.1 587.5" fill="none" stroke="#111" stroke-width="1.3" />
<ellipse cx="145.9" cy="601.4" rx="22.0" ry="21.8" fill="none" stroke="#111" stroke-width="2.01"/>
<ellipse cx="145.9" cy="601.4" rx="18.3" ry="18.0" fill="none" stroke="#111" stroke-width="2.83"/>
<path d="M130.4 593.4 a17.5 17 0 0 1 20 -8.5 l-2 2.4 a14 13 0 0 0 -15 7z" fill="#111"/>
<ellipse cx="120.3" cy="587.9" rx="4.2" ry="3.9" fill="none" stroke="#111" stroke-width="1.77"/>
<ellipse cx="120.3" cy="587.9" rx="1.5" ry="1.4" fill="none" stroke="#111" stroke-width="1.3"/>
<ellipse cx="168.9" cy="591.9" rx="4.0" ry="3.8" fill="none" stroke="#111" stroke-width="1.77"/>
<ellipse cx="168.9" cy="591.9" rx="1.4" ry="1.3" fill="none" stroke="#111" stroke-width="1.3"/>
<ellipse cx="144.3" cy="626.0" rx="3.3" ry="2.4" fill="none" stroke="#111" stroke-width="1.77"/>
<path d="M130.9 595.9 C132.7 596.4 138.1 598.6 141.9 598.9 C145.7 599.1 150.7 598.4 153.9 597.4 C157.2 596.4 160.2 593.6 161.4 592.9" fill="none" stroke="#111" stroke-width="2.36"/>
<path d="M129.4 603.4 C131.5 604.1 137.8 607.5 141.9 607.9 C146.0 608.3 150.5 607.0 153.9 605.9 C157.3 604.8 161.0 602.1 162.4 601.4" fill="none" stroke="#111" stroke-width="2.24"/>
<path d="M131.4 610.4 C133.3 611.1 139.2 614.5 142.9 614.9 C146.7 615.3 151.2 613.9 153.9 612.9 C156.6 611.9 158.1 609.6 158.9 608.9" fill="none" stroke="#111" stroke-width="2.24"/>
<line x1="142.9" y1="587.9" x2="145.9" y2="597.9" stroke="#111" stroke-width="1.3"/>
<line x1="145.9" y1="597.9" x2="141.9" y2="607.4" stroke="#111" stroke-width="1.3"/>
<line x1="145.9" y1="606.9" x2="149.9" y2="613.9" stroke="#111" stroke-width="1.3"/>
<path d="M139.9 597.4 q3 -4 8 -3.2 q5 -1.6 9 1 q-3 3.4 -9 3.2 q-5 1.2 -8 -1z" fill="#111"/>
<path d="M134.4 612.9 q7 3.4 15 1.4 q-6 5.2 -15 -1.4z" fill="#111"/>
<path d="M403.1 565.3 L402.0 563.2 L401.2 561.0 L400.6 558.7 L400.2 556.3 L400.1 554.0 L400.3 551.6 L400.7 549.3 L401.4 547.0 L402.3 544.8 L403.4 542.8 L404.8 540.8 L406.4 539.0 L408.2 537.4 L410.1 536.0 L412.2 534.8 L414.4 533.8 L416.7 533.1 L419.1 532.6 L421.5 532.3 L423.9 532.3 L426.3 532.6 L428.7 533.1 L431.0 533.9 L433.2 534.9 L435.2 536.1 L437.2 537.5 L438.9 539.2 L440.5 541.0 L441.9 542.9 L443.0 545.0" fill="none" stroke="#111" stroke-width="1.65" />
<path d="M403.8 561.6 L403.4 559.4 L403.1 557.2 L403.1 555.0 L403.4 552.8 L403.9 550.6 L404.7 548.6 L405.7 546.5 L406.9 544.7 L408.3 542.9 L409.9 541.3 L411.7 539.9 L413.7 538.7 L415.7 537.6 L417.9 536.8 L420.1 536.2 L422.4 535.9 L424.8 535.8 L427.1 535.9 L429.4 536.3 L431.6 536.9 L433.8 537.8 L435.8 538.8 L437.7 540.1 L439.5 541.5 L441.1 543.1" fill="none" stroke="#111" stroke-width="1.3" />
<path d="M413.2 578.2 L411.0 577.1 L408.9 575.7 L407.0 574.2 L405.3 572.5 L403.8 570.6 L402.5 568.6 L401.4 566.4 L400.6 564.2 L400.0 561.8 L399.7 559.5 L399.6 557.1 L399.8 554.7 L400.3 552.4 L401.0 550.1" fill="none" stroke="#111" stroke-width="1.53" />
<path d="M414.1 578.3 L412.0 576.9 L410.0 575.3 L408.2 573.6 L406.7 571.6 L405.4 569.5 L404.3 567.2 L403.5 564.9 L402.9 562.4 L402.6 560.0 L402.6 557.5 L402.9 555.0 L403.5 552.6 L404.3 550.3 L405.4 548.0 L406.8 545.9" fill="none" stroke="#111" stroke-width="1.3" />
<ellipse cx="428.6" cy="559.8" rx="22.0" ry="21.8" fill="none" stroke="#111" stroke-width="2.01"/>
<ellipse cx="428.6" cy="559.8" rx="18.3" ry="18.0" fill="none" stroke="#111" stroke-width="2.83"/>
<path d="M413.1 551.8 a17.5 17 0 0 1 20 -8.5 l-2 2.4 a14 13 0 0 0 -15 7z" fill="#111"/>
<ellipse cx="401.0" cy="549.0" rx="4.2" ry="3.9" fill="none" stroke="#111" stroke-width="1.77"/>
<ellipse cx="401.0" cy="549.0" rx="1.5" ry="1.4" fill="none" stroke="#111" stroke-width="1.3"/>
<ellipse cx="446.6" cy="540.0" rx="4.0" ry="3.8" fill="none" stroke="#111" stroke-width="1.77"/>
<ellipse cx="446.6" cy="540.0" rx="1.4" ry="1.3" fill="none" stroke="#111" stroke-width="1.3"/>
<ellipse cx="427.0" cy="584.4" rx="3.3" ry="2.4" fill="none" stroke="#111" stroke-width="1.77"/>
<path d="M413.6 554.3 C415.4 554.8 420.8 557.0 424.6 557.3 C428.4 557.5 433.4 556.8 436.6 555.8 C439.9 554.8 442.9 552.0 444.1 551.3" fill="none" stroke="#111" stroke-width="2.36"/>
<path d="M412.1 561.8 C414.2 562.5 420.5 565.9 424.6 566.3 C428.7 566.7 433.2 565.4 436.6 564.3 C440.0 563.2 443.7 560.5 445.1 559.8" fill="none" stroke="#111" stroke-width="2.24"/>
<path d="M414.1 568.8 C416.0 569.5 421.9 572.9 425.6 573.3 C429.4 573.7 433.9 572.3 436.6 571.3 C439.3 570.3 440.8 568.0 441.6 567.3" fill="none" stroke="#111" stroke-width="2.24"/>
<line x1="425.6" y1="546.3" x2="428.6" y2="556.3" stroke="#111" stroke-width="1.3"/>
<line x1="428.6" y1="556.3" x2="424.6" y2="565.8" stroke="#111" stroke-width="1.3"/>
<line x1="428.6" y1="565.3" x2="432.6" y2="572.3" stroke="#111" stroke-width="1.3"/>
<path d="M422.6 555.8 q3 -4 8 -3.2 q5 -1.6 9 1 q-3 3.4 -9 3.2 q-5 1.2 -8 -1z" fill="#111"/>
<path d="M417.1 571.3 q7 3.4 15 1.4 q-6 5.2 -15 -1.4z" fill="#111"/>
<path d="M651.1 522.9 L650.0 520.8 L649.2 518.6 L648.6 516.3 L648.2 513.9 L648.1 511.6 L648.3 509.2 L648.7 506.9 L649.4 504.6 L650.3 502.4 L651.4 500.4 L652.8 498.4 L654.4 496.6 L656.2 495.0 L658.1 493.6 L660.2 492.4 L662.4 491.4 L664.7 490.7 L667.1 490.2 L669.5 489.9 L671.9 489.9 L674.3 490.2 L676.7 490.7 L679.0 491.5 L681.2 492.5 L683.2 493.7 L685.2 495.1 L686.9 496.8 L688.5 498.6 L689.9 500.5 L691.0 502.6" fill="none" stroke="#111" stroke-width="1.65" />
<path d="M651.8 519.2 L651.4 517.0 L651.1 514.8 L651.1 512.6 L651.4 510.4 L651.9 508.2 L652.7 506.2 L653.7 504.1 L654.9 502.3 L656.3 500.5 L657.9 498.9 L659.7 497.5 L661.7 496.3 L663.7 495.2 L665.9 494.4 L668.1 493.8 L670.4 493.5 L672.8 493.4 L675.1 493.5 L677.4 493.9 L679.6 494.5 L681.8 495.4 L683.8 496.4 L685.7 497.7 L687.5 499.1 L689.1 500.7" fill="none" stroke="#111" stroke-width="1.3" />
<path d="M661.2 535.8 L659.0 534.7 L656.9 533.3 L655.0 531.8 L653.3 530.1 L651.8 528.2 L650.5 526.2 L649.4 524.0 L648.6 521.8 L648.0 519.4 L647.7 517.1 L647.6 514.7 L647.8 512.3 L648.3 510.0 L649.0 507.7" fill="none" stroke="#111" stroke-width="1.53" />
<path d="M662.1 535.9 L660.0 534.5 L658.0 532.9 L656.2 531.2 L654.7 529.2 L653.4 527.1 L652.3 524.8 L651.5 522.5 L650.9 520.0 L650.6 517.6 L650.6 515.1 L650.9 512.6 L651.5 510.2 L652.3 507.9 L653.4 505.6 L654.8 503.5" fill="none" stroke="#111" stroke-width="1.3" />
<ellipse cx="676.6" cy="517.4" rx="22.0" ry="21.8" fill="none" stroke="#111" stroke-width="2.01"/>
<ellipse cx="676.6" cy="517.4" rx="18.3" ry="18.0" fill="none" stroke="#111" stroke-width="2.83"/>
<path d="M661.1 509.4 a17.5 17 0 0 1 20 -8.5 l-2 2.4 a14 13 0 0 0 -15 7z" fill="#111"/>
<ellipse cx="653.0" cy="501.4" rx="4.2" ry="3.9" fill="none" stroke="#111" stroke-width="1.77"/>
<ellipse cx="653.0" cy="501.4" rx="1.5" ry="1.4" fill="none" stroke="#111" stroke-width="1.3"/>
<ellipse cx="692.6" cy="495.4" rx="4.0" ry="3.8" fill="none" stroke="#111" stroke-width="1.77"/>
<ellipse cx="692.6" cy="495.4" rx="1.4" ry="1.3" fill="none" stroke="#111" stroke-width="1.3"/>
<ellipse cx="675.0" cy="542.0" rx="3.3" ry="2.4" fill="none" stroke="#111" stroke-width="1.77"/>
<path d="M661.6 511.9 C663.4 512.4 668.8 514.6 672.6 514.9 C676.4 515.1 681.4 514.4 684.6 513.4 C687.9 512.4 690.9 509.6 692.1 508.9" fill="none" stroke="#111" stroke-width="2.36"/>
<path d="M660.1 519.4 C662.2 520.1 668.5 523.5 672.6 523.9 C676.7 524.3 681.2 523.0 684.6 521.9 C688.0 520.8 691.7 518.1 693.1 517.4" fill="none" stroke="#111" stroke-width="2.24"/>
<path d="M662.1 526.4 C664.0 527.1 669.9 530.5 673.6 530.9 C677.4 531.3 681.9 529.9 684.6 528.9 C687.3 527.9 688.8 525.6 689.6 524.9" fill="none" stroke="#111" stroke-width="2.24"/>
<line x1="673.6" y1="503.9" x2="676.6" y2="513.9" stroke="#111" stroke-width="1.3"/>
<line x1="676.6" y1="513.9" x2="672.6" y2="523.4" stroke="#111" stroke-width="1.3"/>
<line x1="676.6" y1="522.9" x2="680.6" y2="529.9" stroke="#111" stroke-width="1.3"/>
<path d="M670.6 513.4 q3 -4 8 -3.2 q5 -1.6 9 1 q-3 3.4 -9 3.2 q-5 1.2 -8 -1z" fill="#111"/>
<path d="M665.1 528.9 q7 3.4 15 1.4 q-6 5.2 -15 -1.4z" fill="#111"/>
<path d="M886.1 484.7 L885.0 482.6 L884.2 480.4 L883.6 478.1 L883.2 475.7 L883.1 473.4 L883.3 471.0 L883.7 468.7 L884.4 466.4 L885.3 464.2 L886.4 462.2 L887.8 460.2 L889.4 458.4 L891.2 456.8 L893.1 455.4 L895.2 454.2 L897.4 453.2 L899.7 452.5 L902.1 452.0 L904.5 451.7 L906.9 451.7 L909.3 452.0 L911.7 452.5 L914.0 453.3 L916.2 454.3 L918.2 455.5 L920.2 456.9 L921.9 458.6 L923.5 460.4 L924.9 462.3 L926.0 464.4" fill="none" stroke="#111" stroke-width="1.65" />
<path d="M886.8 481.0 L886.4 478.8 L886.1 476.6 L886.1 474.4 L886.4 472.2 L886.9 470.0 L887.7 468.0 L888.7 465.9 L889.9 464.1 L891.3 462.3 L892.9 460.7 L894.7 459.3 L896.7 458.1 L898.7 457.0 L900.9 456.2 L903.1 455.6 L905.4 455.3 L907.8 455.2 L910.1 455.3 L912.4 455.7 L914.6 456.3 L916.8 457.2 L918.8 458.2 L920.7 459.5 L922.5 460.9 L924.1 462.5" fill="none" stroke="#111" stroke-width="1.3" />
<path d="M896.2 497.6 L894.0 496.5 L891.9 495.1 L890.0 493.6 L888.3 491.9 L886.8 490.0 L885.5 488.0 L884.4 485.8 L883.6 483.6 L883.0 481.2 L882.7 478.9 L882.6 476.5 L882.8 474.1 L883.3 471.8 L884.0 469.5" fill="none" stroke="#111" stroke-width="1.53" />
<path d="M897.1 497.7 L895.0 496.3 L893.0 494.7 L891.2 493.0 L889.7 491.0 L888.4 488.9 L887.3 486.6 L886.5 484.3 L885.9 481.8 L885.6 479.4 L885.6 476.9 L885.9 474.4 L886.5 472.0 L887.3 469.7 L888.4 467.4 L889.8 465.3" fill="none" stroke="#111" stroke-width="1.3" />
<ellipse cx="911.6" cy="479.2" rx="22.0" ry="21.8" fill="none" stroke="#111" stroke-width="2.01"/>
<ellipse cx="911.6" cy="479.2" rx="18.3" ry="18.0" fill="none" stroke="#111" stroke-width="2.83"/>
<path d="M896.1 471.2 a17.5 17 0 0 1 20 -8.5 l-2 2.4 a14 13 0 0 0 -15 7z" fill="#111"/>
<ellipse cx="893.6" cy="459.2" rx="4.2" ry="3.9" fill="none" stroke="#111" stroke-width="1.77"/>
<ellipse cx="893.6" cy="459.2" rx="1.5" ry="1.4" fill="none" stroke="#111" stroke-width="1.3"/>
<ellipse cx="928.4" cy="458.4" rx="4.0" ry="3.8" fill="none" stroke="#111" stroke-width="1.77"/>
<ellipse cx="928.4" cy="458.4" rx="1.4" ry="1.3" fill="none" stroke="#111" stroke-width="1.3"/>
<ellipse cx="910.0" cy="503.8" rx="3.3" ry="2.4" fill="none" stroke="#111" stroke-width="1.77"/>
<path d="M896.6 473.7 C898.4 474.2 903.8 476.4 907.6 476.7 C911.4 476.9 916.4 476.2 919.6 475.2 C922.9 474.2 925.9 471.4 927.1 470.7" fill="none" stroke="#111" stroke-width="2.36"/>
<path d="M895.1 481.2 C897.2 481.9 903.5 485.3 907.6 485.7 C911.7 486.1 916.2 484.8 919.6 483.7 C923.0 482.6 926.7 479.9 928.1 479.2" fill="none" stroke="#111" stroke-width="2.24"/>
<path d="M897.1 488.2 C899.0 488.9 904.9 492.3 908.6 492.7 C912.4 493.1 916.9 491.7 919.6 490.7 C922.3 489.7 923.8 487.4 924.6 486.7" fill="none" stroke="#111" stroke-width="2.24"/>
<line x1="908.6" y1="465.7" x2="911.6" y2="475.7" stroke="#111" stroke-width="1.3"/>
<line x1="911.6" y1="475.7" x2="907.6" y2="485.2" stroke="#111" stroke-width="1.3"/>
<line x1="911.6" y1="484.7" x2="915.6" y2="491.7" stroke="#111" stroke-width="1.3"/>
<path d="M905.6 475.2 q3 -4 8 -3.2 q5 -1.6 9 1 q-3 3.4 -9 3.2 q-5 1.2 -8 -1z" fill="#111"/>
<path d="M900.1 490.7 q7 3.4 15 1.4 q-6 5.2 -15 -1.4z" fill="#111"/>
<path d="M197.0 628.0 L226.0 624.4 L238.0 620.0 L242.0 612.0 L270.0 606.0 L306.0 599.0 L312.0 604.0 L328.0 607.0 L330.0 601.0 L350.0 598.0 L372.0 596.0 L382.0 605.0 L372.0 609.0 L364.0 615.0 L368.0 626.0 L368.0 640.0 L358.0 648.0 L362.0 656.0 L360.0 668.0 L356.0 676.0 L344.0 686.0 L338.0 696.0 L300.0 706.0 L278.0 712.0 L238.0 724.0 L232.0 727.0 L216.0 724.0 L214.0 710.0 L212.0 696.0 L208.0 680.0 L203.0 655.0Z" fill="none" stroke="#111" stroke-width="1.53" />
<path d="M226.0 624.4 L232.0 650.0 L238.0 676.0 L212.0 684.0" fill="none" stroke="#111" stroke-width="1.3" />
<path d="M201.0 634.0 L228.0 630.0" fill="none" stroke="#111" stroke-width="1.2" />
<path d="M238.0 676.0 L240.0 700.0 L236.0 722.0" fill="none" stroke="#111" stroke-width="1.2" />
<path d="M212.0 688.0 L238.0 681.0" fill="none" stroke="#111" stroke-width="1.2" />
<path d="M214.0 683.0 L222.0 681.0 L223.0 688.0 L215.0 690.0Z" fill="none" stroke="#111" stroke-width="1.2" />
<path d="M242.0 617.0 L270.0 611.0 L306.0 604.0 L312.0 609.0 L328.0 612.0" fill="none" stroke="#111" stroke-width="1.2" />
<path d="M254.0 615.0 L255.0 609.0" fill="none" stroke="#111" stroke-width="1.2" />
<path d="M276.0 610.0 L277.0 604.5" fill="none" stroke="#111" stroke-width="1.2" />
<path d="M298.0 606.0 L298.5 600.5" fill="none" stroke="#111" stroke-width="1.2" />
<path d="M330.0 601.0 L334.0 612.0 L340.0 624.0 L356.0 630.0 L356.0 648.0" fill="none" stroke="#111" stroke-width="1.3" />
<path d="M334.0 612.0 L364.0 608.0" fill="none" stroke="#111" stroke-width="1.2" />
<path d="M340.0 624.0 L366.0 621.0" fill="none" stroke="#111" stroke-width="1.2" />
<path d="M336.0 606.0 L374.0 600.0 L380.0 605.0" fill="none" stroke="#111" stroke-width="1.2" />
<path d="M348.0 599.0 L352.0 610.0 L358.0 628.0" fill="none" stroke="#111" stroke-width="1.2" />
<path d="M362.0 626.0 L368.0 625.0 L368.5 638.0 L362.5 639.0Z" fill="none" stroke="#111" stroke-width="1.42" />
<path d="M338.0 640.0 L346.0 644.0 L346.0 652.0 L340.0 660.0" fill="none" stroke="#111" stroke-width="1.2" />
<path d="M350.0 652.0 L358.0 655.0 L356.0 664.0 L350.0 668.0" fill="none" stroke="#111" stroke-width="1.2" />
<path d="M344.0 672.0 L352.0 674.0 L350.0 680.0" fill="none" stroke="#111" stroke-width="1.2" />
<path d="M244.5 642.5 C246.1 639.2 249.8 634.5 255.0 630.5 C260.2 626.5 269.8 621.1 276.0 618.5 C282.2 615.9 287.0 615.1 292.5 614.7 C298.0 614.3 303.8 614.6 309.0 616.2 C314.2 617.8 320.2 621.4 324.0 624.5 C327.8 627.6 330.1 630.2 331.5 635.0 C332.9 639.8 332.7 647.2 332.2 653.0 C331.7 658.8 330.4 664.8 328.5 669.5 C326.6 674.2 324.8 677.8 321.0 681.5 C317.2 685.2 311.5 689.8 306.0 692.0 C300.5 694.2 293.5 695.0 288.0 695.0 C282.5 695.0 277.5 694.0 273.0 692.0 C268.5 690.0 264.8 687.5 261.0 683.0 C257.2 678.5 253.1 670.5 250.5 665.0 C247.9 659.5 246.2 653.8 245.2 650.0 C244.2 646.2 242.9 645.8 244.5 642.5Z" fill="none" stroke="#111" stroke-width="3.54"/>
<path d="M239.7 641.0 C241.5 637.4 245.5 632.0 251.3 627.6 C257.2 623.1 267.7 617.1 274.6 614.1 C281.6 611.2 286.8 610.3 293.0 609.9 C299.1 609.4 305.4 609.7 311.3 611.5 C317.1 613.4 323.8 617.3 327.9 620.8 C332.1 624.3 334.7 627.3 336.2 632.6 C337.8 637.9 337.6 646.3 337.0 652.8 C336.5 659.2 335.0 665.9 332.9 671.2 C330.8 676.6 328.7 680.5 324.6 684.7 C320.4 688.9 314.0 693.9 307.9 696.4 C301.8 699.0 294.1 699.8 288.0 699.8 C281.9 699.8 276.3 698.7 271.3 696.4 C266.3 694.2 262.1 691.4 258.0 686.4 C253.8 681.3 249.3 672.4 246.3 666.2 C243.4 660.0 241.6 653.6 240.4 649.4 C239.3 645.2 237.9 644.6 239.7 641.0Z" fill="none" stroke="#111" stroke-width="1.2"/>
<path d="M327.8 653.2 C327.3 655.7 326.2 663.8 324.5 668.0 C322.8 672.3 321.1 675.5 317.7 678.9 C314.4 682.2 309.2 686.3 304.2 688.3 C299.3 690.3 293.0 691.0 288.0 691.0 C283.1 691.0 278.6 690.1 274.5 688.3 C270.5 686.5 267.1 684.2 263.7 680.2 C260.4 676.2 256.7 669.0 254.3 664.0 C251.9 659.0 250.3 652.8 249.5 650.5" fill="none" stroke="#111" stroke-width="1.3"/>
<path d="M236.0 650.0 C236.7 655.0 235.7 671.7 240.0 680.0 C244.3 688.3 252.7 695.7 262.0 700.0 C271.3 704.3 284.7 706.7 296.0 706.0 C307.3 705.3 322.0 700.7 330.0 696.0 C338.0 691.3 341.7 681.0 344.0 678.0" fill="none" stroke="#111" stroke-width="1.2"/>
<path d="M232.0 640.0 C233.0 637.7 233.0 630.0 238.0 626.0 C243.0 622.0 251.7 618.7 262.0 616.0 C272.3 613.3 288.7 610.0 300.0 610.0 C311.3 610.0 323.3 612.7 330.0 616.0 C336.7 619.3 338.3 627.7 340.0 630.0" fill="none" stroke="#111" stroke-width="1.2"/>
<path d="M248.0 642.0 L275.0 636.5" fill="none" stroke="#111" stroke-width="2.12" />
<path d="M306.0 630.5 L331.0 625.5" fill="none" stroke="#111" stroke-width="2.12" />
<path d="M249.0 646.5 L274.0 641.5" fill="none" stroke="#111" stroke-width="1.2" />
<path d="M308.0 635.0 L332.0 630.0" fill="none" stroke="#111" stroke-width="1.2" />
<path d="M252.0 668.5 L282.0 662.0" fill="none" stroke="#111" stroke-width="2.12" />
<path d="M300.0 658.0 L333.0 650.5" fill="none" stroke="#111" stroke-width="2.12" />
<path d="M254.0 673.0 L278.0 667.5" fill="none" stroke="#111" stroke-width="1.2" />
<path d="M316.0 659.5 L333.0 655.5" fill="none" stroke="#111" stroke-width="1.2" />
<path d="M246.0 634.0 C247.0 632.3 248.3 627.0 252.0 624.0 C255.7 621.0 260.0 618.2 268.0 616.0 C276.0 613.8 291.0 611.2 300.0 611.0 C309.0 610.8 316.3 612.5 322.0 615.0 C327.7 617.5 332.0 624.2 334.0 626.0" fill="none" stroke="#111" stroke-width="1.89"/>
<path d="M244.0 660.0 C245.0 663.7 246.0 676.0 250.0 682.0 C254.0 688.0 260.3 693.0 268.0 696.0 C275.7 699.0 287.0 700.7 296.0 700.0 C305.0 699.3 315.3 696.0 322.0 692.0 C328.7 688.0 333.7 678.7 336.0 676.0" fill="none" stroke="#111" stroke-width="1.2"/>
<path d="M242.0 612.0 L247.0 622.0" fill="none" stroke="#111" stroke-width="1.2" />
<path d="M306.0 599.0 L308.0 610.0" fill="none" stroke="#111" stroke-width="1.2" />
<path d="M212.0 696.0 L240.0 690.0" fill="none" stroke="#111" stroke-width="1.2" />
<path d="M205.0 660.0 L234.0 655.0" fill="none" stroke="#111" stroke-width="1.2" />
<path d="M338.0 696.0 L334.0 686.0" fill="none" stroke="#111" stroke-width="1.2" />
<path d="M300.0 706.0 L298.0 699.0" fill="none" stroke="#111" stroke-width="1.2" />
<path d="M262.0 717.0 L260.0 708.0" fill="none" stroke="#111" stroke-width="1.2" />
<path d="M356.0 648.0 L346.0 644.0" fill="none" stroke="#111" stroke-width="1.2" />
<path d="M344.0 686.0 L336.0 680.0" fill="none" stroke="#111" stroke-width="1.2" />
<path d="M350.0 662.0 L354.0 662.0" fill="none" stroke="#111" stroke-width="2.36" />
<path d="M346.0 676.0 L350.0 677.0" fill="none" stroke="#111" stroke-width="2.36" />
<path d="M270.0 626.0 L275.0 640.0" fill="none" stroke="#111" stroke-width="1.2" />
<path d="M316.0 617.0 L320.0 632.0" fill="none" stroke="#111" stroke-width="1.2" />
<path d="M285.0 619.0 C286.7 617.7 289.4 616.9 291.0 617.0 C292.6 617.1 295.4 618.3 297.0 620.0 C298.6 621.7 301.8 627.1 303.0 630.0 C304.2 632.9 306.1 639.1 306.0 642.0 C305.9 644.9 303.7 650.0 302.0 652.0 C300.3 654.0 295.5 656.5 293.0 657.0 C290.5 657.5 285.4 657.2 283.0 656.0 C280.6 654.8 276.2 650.5 275.0 648.0 C273.8 645.5 273.6 639.8 274.0 637.0 C274.4 634.2 276.5 629.4 278.0 627.0 C279.5 624.6 283.3 620.3 285.0 619.0Z" fill="none" stroke="#111" stroke-width="1.65"/>
<path d="M284.0 657.0 L286.0 664.0" fill="none" stroke="#111" stroke-width="1.2" />
<path d="M300.0 653.0 L303.0 660.0" fill="none" stroke="#111" stroke-width="1.2" />
<path d="M280.0 672.0 C281.6 669.9 286.5 668.2 290.0 667.5 C293.5 666.8 302.7 666.2 306.0 666.5 C309.3 666.8 313.6 668.7 315.0 670.0 C316.4 671.3 317.2 674.3 316.5 676.0 C315.8 677.7 312.7 681.3 310.0 683.0 C307.3 684.7 299.5 687.7 296.0 688.5 C292.5 689.3 286.4 689.7 284.0 689.0 C281.6 688.3 278.5 685.3 278.0 683.0 C277.5 680.7 278.4 674.1 280.0 672.0Z" fill="none" stroke="#111" stroke-width="1.65"/>
<path d="M314.6 675.5 L314.7 676.3 L314.6 677.1 L314.3 677.9 L313.8 678.8 L313.2 679.6 L312.4 680.5 L311.4 681.3 L310.3 682.1 L309.0 682.9 L307.7 683.6 L306.2 684.3 L304.6 684.9 L303.0 685.4 L301.3 685.9 L299.6 686.3 L297.8 686.7 L296.1 686.9 L294.3 687.1 L292.7 687.1 L291.0 687.1 L289.5 687.0 L288.0 686.8 L286.7 686.5 L285.5 686.2 L284.4 685.7 L283.4 685.2 L282.7 684.6 L282.1 684.0 L281.6 683.3 L281.4 682.5" fill="none" stroke="#111" stroke-width="1.2" />
<ellipse cx="300.0" cy="684.0" rx="7.0" ry="2.6" fill="none" stroke="#111" stroke-width="1.2" transform="rotate(-12.0 300.0 684.0)"/>
<rect x="249.0" y="645.8" width="11" height="8.5" fill="#1a1a1a" transform="rotate(15 254.5 650.0)"/>
<path d="M251.0 648.6 h7 M251.0 651.6 h7" stroke="#aaa" stroke-width="0.7" transform="rotate(15 254.5 650.0)"/>
<rect x="317.0" y="629.3" width="11" height="8.5" fill="#1a1a1a" transform="rotate(15 322.5 633.5)"/>
<path d="M319.0 632.1 h7 M319.0 635.1 h7" stroke="#aaa" stroke-width="0.7" transform="rotate(15 322.5 633.5)"/>
<rect x="263.5" y="677.3" width="11" height="8.5" fill="#1a1a1a" transform="rotate(-40 269.0 681.5)"/>
<path d="M265.5 680.1 h7 M265.5 683.1 h7" stroke="#aaa" stroke-width="0.7" transform="rotate(-40 269.0 681.5)"/>
<rect x="315.5" y="662.3" width="11" height="8.5" fill="#1a1a1a" transform="rotate(40 321.0 666.5)"/>
<path d="M317.5 665.1 h7 M317.5 668.1 h7" stroke="#aaa" stroke-width="0.7" transform="rotate(40 321.0 666.5)"/>
<path d="M214.0 706.0 L240.0 700.0 L300.0 690.0 L338.0 682.0" fill="none" stroke="#111" stroke-width="1.2" />
<path d="M244.0 716.0 L250.0 714.0 L251.0 718.0 L245.0 720.0Z" fill="none" stroke="#111" stroke-width="1.2" />
<path d="M254.0 718.0 L262.0 716.0 L263.0 719.5 L255.0 721.5Z" fill="none" stroke="#111" stroke-width="1.2" />
<path d="M286.0 709.0 L296.0 707.0" fill="none" stroke="#111" stroke-width="1.65" />
<path d="M316.0 701.0 L324.0 699.0 L324.5 702.0" fill="none" stroke="#111" stroke-width="1.2" />
<ellipse cx="231.5" cy="728.0" rx="4.0" ry="4.0" fill="none" stroke="#111" stroke-width="1.42"/>
<ellipse cx="231.5" cy="728.0" rx="1.8" ry="1.8" fill="none" stroke="#111" stroke-width="1.2"/>
<path d="M463.0 620.0 C464.9 617.0 472.3 610.1 476.0 608.3 C479.7 606.5 494.8 603.2 500.0 602.0 C505.2 600.8 524.2 596.6 528.0 596.6 C531.8 596.6 533.2 602.3 538.4 601.8 C543.6 601.3 570.6 594.1 580.0 592.0 C589.4 589.9 626.3 582.9 632.0 581.0 C637.7 579.1 634.9 574.4 637.2 573.2 C639.5 572.0 651.1 569.2 655.4 569.3 C659.7 569.4 675.8 573.0 680.0 574.0 C684.2 575.0 694.6 578.5 697.0 579.7 C699.4 580.9 703.2 584.2 703.5 586.2 C703.8 588.2 702.3 596.1 699.6 599.2 C696.9 602.3 680.6 613.8 676.2 617.4 C671.8 621.0 659.8 632.5 655.4 635.6 C651.0 638.7 637.5 646.5 632.0 648.6 C626.5 650.7 607.0 655.2 600.0 657.0 C593.0 658.8 569.5 665.0 561.8 666.8 C554.1 668.6 529.5 674.0 522.8 674.6 C516.1 675.2 499.9 673.5 495.0 673.0 C490.1 672.5 477.1 670.8 473.4 669.4 C469.7 668.0 459.5 662.1 457.8 659.0 C456.1 655.9 456.0 642.1 456.5 638.2 C457.0 634.3 461.1 623.0 463.0 620.0Z" fill="none" stroke="#111" stroke-width="1.53"/>
<path d="M528.0 617.4 C531.7 615.6 552.8 610.7 560.0 609.0 C567.2 607.3 590.5 602.0 600.0 600.0 C609.5 598.0 649.1 589.6 655.4 588.8 C661.7 588.0 662.0 590.9 663.0 592.0 C664.0 593.1 666.0 596.9 665.8 600.0 C665.6 603.1 662.9 618.8 660.6 622.6 C658.3 626.4 648.5 635.6 642.4 638.2 C636.3 640.8 608.8 646.4 600.0 648.5 C591.2 650.6 560.0 658.0 554.0 659.0 C548.0 660.0 542.6 659.7 540.0 659.0 C537.4 658.3 529.7 653.9 528.0 652.0 C526.3 650.1 523.3 642.5 522.8 640.0 C522.3 637.5 522.5 629.3 523.0 627.0 C523.5 624.7 524.3 619.2 528.0 617.4Z" fill="none" stroke="#111" stroke-width="1.53"/>
<path d="M530.0 621.0 C537.3 617.8 587.7 606.8 600.0 604.0 C612.3 601.2 646.9 593.4 653.0 593.0 C659.1 592.6 660.7 597.2 661.0 600.0 C661.3 602.8 658.1 617.5 656.0 621.0 C653.9 624.5 650.0 631.6 640.0 635.0 C630.0 638.4 566.8 653.5 556.0 655.0 C545.2 656.5 534.9 651.9 532.0 650.0 C529.1 648.1 527.2 638.9 527.0 636.0 C526.8 633.1 522.7 624.2 530.0 621.0Z" fill="none" stroke="#111" stroke-width="1.2"/>
<path d="M524.0 611.0 C532.2 608.0 586.6 597.3 600.0 594.5 C613.4 591.7 651.2 583.6 658.0 583.0 C664.8 582.4 666.7 586.3 668.0 588.0 C669.3 589.7 671.3 596.2 671.0 600.0 C670.7 603.8 667.5 621.8 665.0 626.0 C662.5 630.2 656.9 638.2 646.0 642.0 C635.1 645.8 567.6 662.2 556.0 664.0 C544.4 665.8 533.8 662.0 530.0 660.0 C526.2 658.0 519.2 647.6 518.0 644.0 C516.8 640.4 517.4 627.3 518.0 624.0 C518.6 620.7 515.8 614.0 524.0 611.0Z" fill="none" stroke="#111" stroke-width="1.2"/>
<path d="M538.4 601.8 L580.0 596.5 L632.0 586.0 L640.0 578.0" fill="none" stroke="#111" stroke-width="1.2" />
<path d="M540.0 606.0 L632.0 590.5" fill="none" stroke="#111" stroke-width="1.2" />
<path d="M528.0 596.6 L520.0 602.0 L500.0 607.0 L476.0 613.0" fill="none" stroke="#111" stroke-width="1.2" />
<path d="M574.0 593.0 L578.0 602.0" fill="none" stroke="#111" stroke-width="1.2" />
<path d="M637.0 573.5 L634.0 580.0 L640.0 580.0" fill="none" stroke="#111" stroke-width="1.2" />
<path d="M668.0 588.0 C670.7 588.3 678.8 588.7 684.0 590.0 C689.2 591.3 696.5 595.0 699.0 596.0" fill="none" stroke="#111" stroke-width="1.2"/>
<path d="M655.4 569.3 L663.0 585.0" fill="none" stroke="#111" stroke-width="1.2" />
<path d="M680.0 574.0 L682.0 590.0 L676.0 617.0" fill="none" stroke="#111" stroke-width="1.2" />
<path d="M697.0 580.0 L690.0 597.0" fill="none" stroke="#111" stroke-width="1.2" />
<path d="M665.0 626.0 C667.5 623.7 675.2 616.7 680.0 612.0 C684.8 607.3 691.7 600.3 694.0 598.0" fill="none" stroke="#111" stroke-width="1.2"/>
<ellipse cx="489.0" cy="638.2" rx="14.3" ry="14.8" fill="none" stroke="#111" stroke-width="1.42"/>
<ellipse cx="490.5" cy="638.5" rx="10.5" ry="11.0" fill="none" stroke="#111" stroke-width="1.42"/>
<ellipse cx="489.0" cy="638.2" rx="18.5" ry="19.0" fill="none" stroke="#111" stroke-width="1.2"/>
<path d="M463.0 628.0 C465.8 625.7 472.2 617.0 480.0 614.0 C487.8 611.0 502.7 610.3 510.0 610.0 C517.3 609.7 521.7 611.7 524.0 612.0" fill="none" stroke="#111" stroke-width="1.2"/>
<path d="M466.0 660.0 C468.3 660.7 472.7 663.7 480.0 664.0 C487.3 664.3 502.7 663.3 510.0 662.0 C517.3 660.7 521.7 657.0 524.0 656.0" fill="none" stroke="#111" stroke-width="1.2"/>
<line x1="470.0" y1="615.0" x2="474.0" y2="626.0" stroke="#111" stroke-width="1.2"/>
<line x1="500.0" y1="602.0" x2="502.0" y2="618.0" stroke="#111" stroke-width="1.2"/>
<line x1="512.0" y1="606.0" x2="518.0" y2="622.0" stroke="#111" stroke-width="1.2"/>
<line x1="462.0" y1="640.0" x2="471.0" y2="640.0" stroke="#111" stroke-width="1.2"/>
<line x1="470.0" y1="666.0" x2="476.0" y2="656.0" stroke="#111" stroke-width="1.2"/>
<line x1="500.0" y1="672.0" x2="500.0" y2="658.0" stroke="#111" stroke-width="1.2"/>
<line x1="520.0" y1="674.0" x2="516.0" y2="660.0" stroke="#111" stroke-width="1.2"/>
<line x1="545.0" y1="670.0" x2="542.0" y2="660.0" stroke="#111" stroke-width="1.2"/>
<line x1="458.0" y1="650.0" x2="468.0" y2="648.0" stroke="#111" stroke-width="1.2"/>
<path d="M455.0 634.0 L452.5 636.0 L453.0 645.0 L456.0 646.0" fill="none" stroke="#111" stroke-width="1.2" />
<path d="M452 657 l3 -2 l2 5 l-3 3z" fill="#111"/>
<path d="M642.0 628.0 L645.0 623.0 L649.0 625.0" fill="none" stroke="#111" stroke-width="1.53" />
<path d="M560.0 668.0 L600.0 659.0 L632.0 651.0" fill="none" stroke="#111" stroke-width="1.2" />
<path d="M795.0 616.0 C795.4 614.6 798.8 611.6 800.0 611.0 C801.2 610.4 804.0 609.9 809.0 609.0 C814.0 608.1 848.2 602.2 860.0 600.5 C871.8 598.8 943.0 589.2 951.0 588.5 C959.0 587.8 955.5 591.0 956.0 592.0 C956.5 593.0 957.3 598.3 957.5 600.0 C957.7 601.7 958.5 610.2 958.5 612.0 C958.5 613.8 958.5 619.8 957.0 622.0 C955.5 624.2 943.3 635.9 941.0 638.0 C938.7 640.1 934.1 645.5 929.0 647.0 C923.9 648.5 888.6 654.5 880.0 656.0 C871.4 657.5 831.7 664.6 826.0 665.0 C820.3 665.4 813.9 662.1 812.0 661.0 C810.1 659.9 804.2 653.8 803.0 652.0 C801.8 650.2 797.6 642.0 797.0 640.0 C796.4 638.0 795.7 630.0 795.5 628.0 C795.3 626.0 794.6 617.4 795.0 616.0Z" fill="none" stroke="#111" stroke-width="1.77"/>
<path d="M806.0 621.0 C806.4 619.0 807.5 617.5 812.0 616.5 C816.5 615.5 848.8 610.6 860.0 609.0 C871.2 607.4 938.2 597.7 946.0 597.0 C953.8 596.3 952.8 599.8 953.5 601.0 C954.2 602.2 955.0 610.3 955.0 612.0 C955.0 613.7 954.6 618.9 953.0 621.0 C951.4 623.1 942.1 634.6 936.0 637.0 C929.9 639.4 889.0 647.7 880.0 649.5 C871.0 651.3 833.5 658.7 828.0 659.0 C822.5 659.3 815.7 654.6 814.0 653.0 C812.3 651.4 808.2 642.7 807.5 640.0 C806.8 637.3 805.6 623.0 806.0 621.0Z" fill="none" stroke="#111" stroke-width="2.83"/>
<path d="M808.2 621.4 C808.5 619.6 808.8 618.7 813.1 617.8 C817.4 616.9 849.0 612.3 860.0 610.8 C871.0 609.2 937.9 599.5 945.6 598.8 C953.2 598.1 951.5 601.2 952.2 602.3 C952.8 603.4 953.5 610.5 953.5 612.0 C953.4 613.5 952.8 618.4 951.2 620.3 C949.7 622.3 940.6 633.4 934.7 635.7 C928.7 638.0 888.8 646.0 880.0 647.7 C871.2 649.5 834.0 656.7 828.7 657.0 C823.3 657.3 817.3 653.1 815.8 651.7 C814.2 650.3 810.3 642.5 809.7 640.0 C809.1 637.5 807.9 623.3 808.2 621.4Z" fill="none" stroke="#111" stroke-width="1.42"/>
<path d="M810.4 621.9 C810.6 620.1 810.1 619.9 814.2 619.1 C818.3 618.4 849.1 614.1 860.0 612.5 C870.9 611.0 937.5 601.3 945.1 600.5 C952.7 599.8 950.3 602.7 950.9 603.6 C951.4 604.6 952.0 610.7 951.9 612.0 C951.8 613.3 951.0 617.8 949.5 619.7 C947.9 621.5 939.1 632.2 933.4 634.4 C927.6 636.6 888.7 644.3 880.0 646.0 C871.3 647.7 834.5 654.7 829.3 655.0 C824.1 655.4 819.0 651.6 817.5 650.4 C816.1 649.1 812.5 642.4 811.9 640.0 C811.3 637.6 810.2 623.6 810.4 621.9Z" fill="none" stroke="#111" stroke-width="1.42"/>
<path d="M812.4 622.3 C812.5 620.6 811.2 621.0 815.2 620.3 C819.2 619.7 849.2 615.6 860.0 614.1 C870.8 612.6 937.2 602.9 944.7 602.1 C952.2 601.3 949.2 604.0 949.7 604.8 C950.1 605.7 950.7 610.8 950.5 612.0 C950.4 613.2 949.4 617.3 947.9 619.1 C946.4 620.8 937.8 631.1 932.2 633.2 C926.5 635.3 888.5 642.7 880.0 644.4 C871.5 646.1 835.0 652.8 829.9 653.2 C824.8 653.6 820.5 650.3 819.1 649.2 C817.8 648.1 814.5 642.2 813.9 640.0 C813.3 637.8 812.3 623.9 812.4 622.3Z" fill="none" stroke="#111" stroke-width="1.2"/>
<path d="M812.0 613.0 L860.0 604.5 L950.0 592.5" fill="none" stroke="#111" stroke-width="1.53" />
<path d="M838.0 606.0 L948.0 590.5" fill="none" stroke="#111" stroke-width="2.36" />
<path d="M835.0 611.5 L900.0 601.5 L950.0 595.0" fill="none" stroke="#111" stroke-width="1.42" />
<path d="M797.5 620.0 L807.0 618.5" fill="none" stroke="#111" stroke-width="1.77" />
<path d="M798.3 625.2 L807.9 623.7" fill="none" stroke="#111" stroke-width="1.77" />
<path d="M799.1 630.4 L808.8 628.9" fill="none" stroke="#111" stroke-width="1.77" />
<path d="M799.9 635.6 L809.7 634.1" fill="none" stroke="#111" stroke-width="1.77" />
<path d="M800.7 640.8 L810.6 639.3" fill="none" stroke="#111" stroke-width="1.77" />
<path d="M801.5 646.0 L811.5 644.5" fill="none" stroke="#111" stroke-width="1.77" />
<path d="M801.0 612.0 L801.5 650.0" fill="none" stroke="#111" stroke-width="1.42" />
<path d="M804.5 611.0 L805.5 654.0" fill="none" stroke="#111" stroke-width="1.2" />
<path d="M797.0 619.0 L791.0 618.0 L786.0 615.5 L783.0 617.5 L786.0 622.0 L791.0 624.0 L797.0 626.0" fill="none" stroke="#111" stroke-width="1.65" />
<rect x="789" y="617" width="6" height="7" fill="#111"/>
<ellipse cx="813.5" cy="604.5" rx="3.4" ry="3.2" fill="none" stroke="#111" stroke-width="1.77"/>
<ellipse cx="813.5" cy="604.5" rx="1.2" ry="1.2" fill="none" stroke="#111" stroke-width="1.2"/>
<line x1="810.5" y1="607.0" x2="810.5" y2="610.5" stroke="#111" stroke-width="1.42"/>
<line x1="816.5" y1="607.0" x2="816.5" y2="610.5" stroke="#111" stroke-width="1.42"/>
<ellipse cx="864.0" cy="595.5" rx="3.4" ry="3.2" fill="none" stroke="#111" stroke-width="1.77"/>
<ellipse cx="864.0" cy="595.5" rx="1.2" ry="1.2" fill="none" stroke="#111" stroke-width="1.2"/>
<line x1="861.0" y1="598.0" x2="861.0" y2="601.5" stroke="#111" stroke-width="1.42"/>
<line x1="867.0" y1="598.0" x2="867.0" y2="601.5" stroke="#111" stroke-width="1.42"/>
<ellipse cx="928.5" cy="585.0" rx="3.4" ry="3.2" fill="none" stroke="#111" stroke-width="1.77"/>
<ellipse cx="928.5" cy="585.0" rx="1.2" ry="1.2" fill="none" stroke="#111" stroke-width="1.2"/>
<line x1="925.5" y1="587.5" x2="925.5" y2="591.0" stroke="#111" stroke-width="1.42"/>
<line x1="931.5" y1="587.5" x2="931.5" y2="591.0" stroke="#111" stroke-width="1.42"/>
<path d="M842.0 604.0 L846.0 598.5 L852.0 597.5 L858.0 602.0 L850.0 603.0" fill="none" stroke="#111" stroke-width="1.65" />
<path d="M848.0 599.0 L855.0 603.5" fill="none" stroke="#111" stroke-width="1.53" />
<path d="M878.0 597.5 L883.0 592.5 L890.0 592.0 L897.0 596.5 L888.0 597.0" fill="none" stroke="#111" stroke-width="1.65" />
<path d="M886.0 593.0 L893.0 597.5" fill="none" stroke="#111" stroke-width="1.53" />
<path d="M866.0 599.0 L876.0 601.0" fill="none" stroke="#111" stroke-width="2.36" />
<path d="M900.0 595.0 L920.0 592.0" fill="none" stroke="#111" stroke-width="2.36" />
<ellipse cx="804.5" cy="660.5" rx="3.2" ry="3.2" fill="none" stroke="#111" stroke-width="1.77"/>
<ellipse cx="842.5" cy="666.0" rx="3.2" ry="2.4" fill="none" stroke="#111" stroke-width="1.65"/>
<ellipse cx="899.5" cy="656.5" rx="3.2" ry="2.4" fill="none" stroke="#111" stroke-width="1.65"/>
<path d="M826.0 665.0 L880.0 656.0 L929.0 647.0" fill="none" stroke="#111" stroke-width="1.2" />
<path d="M822.0 661.5 L880.0 652.5 L932.0 643.5" fill="none" stroke="#111" stroke-width="1.89" />
<ellipse cx="828.0" cy="637.1" rx="15.4" ry="12.2" fill="#111"/>
<line x1="824.9" y1="647.2" x2="827.7" y2="646.9" stroke="#fff" stroke-width="1.0"/>
<line x1="822.1" y1="646.0" x2="824.9" y2="645.7" stroke="#fff" stroke-width="1.0"/>
<line x1="819.8" y1="644.0" x2="822.6" y2="643.7" stroke="#fff" stroke-width="1.0"/>
<line x1="818.1" y1="641.4" x2="820.9" y2="641.1" stroke="#fff" stroke-width="1.0"/>
<line x1="817.3" y1="638.4" x2="820.1" y2="638.1" stroke="#fff" stroke-width="1.0"/>
<line x1="817.4" y1="635.3" x2="820.2" y2="635.0" stroke="#fff" stroke-width="1.0"/>
<line x1="818.4" y1="632.3" x2="821.2" y2="632.0" stroke="#fff" stroke-width="1.0"/>
<line x1="820.2" y1="629.8" x2="823.0" y2="629.5" stroke="#fff" stroke-width="1.0"/>
<line x1="822.6" y1="627.9" x2="825.4" y2="627.6" stroke="#fff" stroke-width="1.0"/>
<line x1="825.4" y1="626.8" x2="828.2" y2="626.5" stroke="#fff" stroke-width="1.0"/>
<circle cx="832.0" cy="636.5" r="11.0" fill="#111"/>
<circle cx="832.0" cy="636.5" r="7.0" fill="#fff"/>
<ellipse cx="832.0" cy="636.5" rx="4.4" ry="4.4" fill="none" stroke="#111" stroke-width="1.42"/>
<line x1="825.0" y1="636.5" x2="839.0" y2="636.5" stroke="#111" stroke-width="1.77"/>
<line x1="832.0" y1="629.5" x2="832.0" y2="643.5" stroke="#111" stroke-width="1.53"/>
<ellipse cx="887.5" cy="627.6" rx="15.4" ry="12.2" fill="#111"/>
<line x1="884.4" y1="637.7" x2="887.2" y2="637.4" stroke="#fff" stroke-width="1.0"/>
<line x1="881.6" y1="636.5" x2="884.4" y2="636.2" stroke="#fff" stroke-width="1.0"/>
<line x1="879.3" y1="634.5" x2="882.1" y2="634.2" stroke="#fff" stroke-width="1.0"/>
<line x1="877.6" y1="631.9" x2="880.4" y2="631.6" stroke="#fff" stroke-width="1.0"/>
<line x1="876.8" y1="628.9" x2="879.6" y2="628.6" stroke="#fff" stroke-width="1.0"/>
<line x1="876.9" y1="625.8" x2="879.7" y2="625.5" stroke="#fff" stroke-width="1.0"/>
<line x1="877.9" y1="622.8" x2="880.7" y2="622.5" stroke="#fff" stroke-width="1.0"/>
<line x1="879.7" y1="620.3" x2="882.5" y2="620.0" stroke="#fff" stroke-width="1.0"/>
<line x1="882.1" y1="618.4" x2="884.9" y2="618.1" stroke="#fff" stroke-width="1.0"/>
<line x1="884.9" y1="617.3" x2="887.7" y2="617.0" stroke="#fff" stroke-width="1.0"/>
<circle cx="891.5" cy="627.0" r="11.0" fill="#111"/>
<circle cx="891.5" cy="627.0" r="7.0" fill="#fff"/>
<ellipse cx="891.5" cy="627.0" rx="4.4" ry="4.4" fill="none" stroke="#111" stroke-width="1.42"/>
<line x1="884.5" y1="627.0" x2="898.5" y2="627.0" stroke="#111" stroke-width="1.77"/>
<line x1="891.5" y1="620.0" x2="891.5" y2="634.0" stroke="#111" stroke-width="1.53"/>
<ellipse cx="946.5" cy="616.6" rx="14.4" ry="11.7" fill="#111"/>
<line x1="943.6" y1="626.3" x2="946.0" y2="626.0" stroke="#fff" stroke-width="1.0"/>
<line x1="940.9" y1="625.1" x2="943.4" y2="624.8" stroke="#fff" stroke-width="1.0"/>
<line x1="938.7" y1="623.2" x2="941.1" y2="622.9" stroke="#fff" stroke-width="1.0"/>
<line x1="937.1" y1="620.7" x2="939.6" y2="620.4" stroke="#fff" stroke-width="1.0"/>
<line x1="936.3" y1="617.8" x2="938.8" y2="617.5" stroke="#fff" stroke-width="1.0"/>
<line x1="936.4" y1="614.9" x2="938.9" y2="614.6" stroke="#fff" stroke-width="1.0"/>
<line x1="937.3" y1="612.1" x2="939.8" y2="611.8" stroke="#fff" stroke-width="1.0"/>
<line x1="939.0" y1="609.7" x2="941.5" y2="609.4" stroke="#fff" stroke-width="1.0"/>
<line x1="941.4" y1="607.9" x2="943.8" y2="607.6" stroke="#fff" stroke-width="1.0"/>
<line x1="944.1" y1="606.8" x2="946.5" y2="606.5" stroke="#fff" stroke-width="1.0"/>
<circle cx="950.0" cy="616.0" r="10.5" fill="#111"/>
<circle cx="950.0" cy="616.0" r="6.5" fill="#fff"/>
<ellipse cx="950.0" cy="616.0" rx="3.9" ry="3.9" fill="none" stroke="#111" stroke-width="1.42"/>
<line x1="943.5" y1="616.0" x2="956.5" y2="616.0" stroke="#111" stroke-width="1.77"/>
<line x1="950.0" y1="609.5" x2="950.0" y2="622.5" stroke="#111" stroke-width="1.53"/>
<line x1="838.2" y1="625.7" x2="840.2" y2="622.2" stroke="#111" stroke-width="1.3"/>
<line x1="841.0" y1="627.8" x2="843.9" y2="625.0" stroke="#111" stroke-width="1.3"/>
<line x1="843.0" y1="630.6" x2="846.6" y2="628.8" stroke="#111" stroke-width="1.3"/>
<line x1="844.2" y1="633.9" x2="848.1" y2="633.1" stroke="#111" stroke-width="1.3"/>
<line x1="844.5" y1="637.4" x2="848.5" y2="637.7" stroke="#111" stroke-width="1.3"/>
<line x1="843.7" y1="640.8" x2="847.5" y2="642.1" stroke="#111" stroke-width="1.3"/>
<line x1="842.1" y1="643.8" x2="845.3" y2="646.2" stroke="#111" stroke-width="1.3"/>
<line x1="839.7" y1="646.4" x2="842.2" y2="649.5" stroke="#111" stroke-width="1.3"/>
<line x1="836.7" y1="648.1" x2="838.2" y2="651.8" stroke="#111" stroke-width="1.3"/>
<line x1="897.8" y1="616.2" x2="899.8" y2="612.7" stroke="#111" stroke-width="1.3"/>
<line x1="900.5" y1="618.3" x2="903.4" y2="615.5" stroke="#111" stroke-width="1.3"/>
<line x1="902.5" y1="621.1" x2="906.1" y2="619.3" stroke="#111" stroke-width="1.3"/>
<line x1="903.7" y1="624.4" x2="907.6" y2="623.6" stroke="#111" stroke-width="1.3"/>
<line x1="904.0" y1="627.9" x2="908.0" y2="628.2" stroke="#111" stroke-width="1.3"/>
<line x1="903.2" y1="631.3" x2="907.0" y2="632.6" stroke="#111" stroke-width="1.3"/>
<line x1="901.6" y1="634.3" x2="904.8" y2="636.7" stroke="#111" stroke-width="1.3"/>
<line x1="899.2" y1="636.9" x2="901.7" y2="640.0" stroke="#111" stroke-width="1.3"/>
<line x1="896.2" y1="638.6" x2="897.7" y2="642.3" stroke="#111" stroke-width="1.3"/>
<path d="M849.0 625.0 L876.2 621.0" fill="none" stroke="#111" stroke-width="1.53" />
<path d="M849.0 634.0 L876.2 630.0" fill="none" stroke="#111" stroke-width="2.36" />
<path d="M849.0 642.0 L876.2 638.0" fill="none" stroke="#111" stroke-width="1.53" />
<path d="M849.0 646.5 L876.2 642.5" fill="none" stroke="#111" stroke-width="1.89" />
<line x1="851.0" y1="625.0" x2="851.0" y2="642.0" stroke="#111" stroke-width="1.53"/>
<line x1="857.3" y1="624.0" x2="857.3" y2="641.0" stroke="#111" stroke-width="1.53"/>
<line x1="863.6" y1="623.0" x2="863.6" y2="640.0" stroke="#111" stroke-width="1.53"/>
<line x1="869.9" y1="622.0" x2="869.9" y2="639.0" stroke="#111" stroke-width="1.53"/>
<line x1="876.2" y1="621.0" x2="876.2" y2="638.0" stroke="#111" stroke-width="1.53"/>
<rect x="852.9" y="627.0" width="2.6" height="4" fill="#111"/>
<rect x="853.0" y="637.0" width="2.2" height="3.4" fill="#111"/>
<line x1="853.1" y1="643.0" x2="852.6" y2="646.0" stroke="#111" stroke-width="1.53"/>
<rect x="859.1" y="627.2" width="2.6" height="4" fill="#111"/>
<rect x="859.3" y="635.0" width="2.2" height="3.4" fill="#111"/>
<line x1="859.4" y1="642.0" x2="858.9" y2="645.0" stroke="#111" stroke-width="1.53"/>
<rect x="865.5" y="625.0" width="2.6" height="4" fill="#111"/>
<rect x="865.6" y="635.0" width="2.2" height="3.4" fill="#111"/>
<line x1="865.8" y1="641.0" x2="865.2" y2="644.0" stroke="#111" stroke-width="1.53"/>
<rect x="871.8" y="625.2" width="2.6" height="4" fill="#111"/>
<rect x="871.9" y="633.0" width="2.2" height="3.4" fill="#111"/>
<line x1="872.0" y1="640.0" x2="871.5" y2="643.0" stroke="#111" stroke-width="1.53"/>
<path d="M909.0 615.0 L929.9 612.0" fill="none" stroke="#111" stroke-width="1.53" />
<path d="M909.0 624.0 L929.9 621.0" fill="none" stroke="#111" stroke-width="2.36" />
<path d="M909.0 632.0 L929.9 629.0" fill="none" stroke="#111" stroke-width="1.53" />
<path d="M909.0 636.5 L929.9 633.5" fill="none" stroke="#111" stroke-width="1.89" />
<line x1="911.0" y1="615.0" x2="911.0" y2="632.0" stroke="#111" stroke-width="1.53"/>
<line x1="917.3" y1="614.0" x2="917.3" y2="631.0" stroke="#111" stroke-width="1.53"/>
<line x1="923.6" y1="613.0" x2="923.6" y2="630.0" stroke="#111" stroke-width="1.53"/>
<line x1="929.9" y1="612.0" x2="929.9" y2="629.0" stroke="#111" stroke-width="1.53"/>
<rect x="912.9" y="617.0" width="2.6" height="4" fill="#111"/>
<rect x="913.0" y="627.0" width="2.2" height="3.4" fill="#111"/>
<line x1="913.1" y1="633.0" x2="912.6" y2="636.0" stroke="#111" stroke-width="1.53"/>
<rect x="919.1" y="617.2" width="2.6" height="4" fill="#111"/>
<rect x="919.3" y="625.0" width="2.2" height="3.4" fill="#111"/>
<line x1="919.4" y1="632.0" x2="918.9" y2="635.0" stroke="#111" stroke-width="1.53"/>
<rect x="925.5" y="615.0" width="2.6" height="4" fill="#111"/>
<rect x="925.6" y="625.0" width="2.2" height="3.4" fill="#111"/>
<line x1="925.8" y1="631.0" x2="925.2" y2="634.0" stroke="#111" stroke-width="1.53"/>
<path d="M870.0 642.5 L880.0 652.0 L899.0 649.0 L906.0 637.5" fill="none" stroke="#111" stroke-width="2.36" />
<path d="M873.0 646.0 L881.0 653.5 L898.0 650.8" fill="none" stroke="#111" stroke-width="1.2" />
<path d="M883.5 646 l3.4 -5.5 l3.4 5z M892 644.6 l3.4 -5.5 l3.4 5z" fill="#111"/>
<path d="M846.0 655.0 L846.5 660.0" fill="none" stroke="#111" stroke-width="1.42" />
<path d="M862.0 652.5 L862.5 657.5" fill="none" stroke="#111" stroke-width="1.42" />
<path d="M912.0 644.5 L912.5 649.5" fill="none" stroke="#111" stroke-width="1.42" />
<ellipse cx="404.8" cy="724.5" rx="13.3" ry="15.0" fill="none" stroke="#111" stroke-width="3.3" transform="rotate(8.0 404.8 724.5)"/>
<ellipse cx="405.3" cy="754.3" rx="13.6" ry="15.4" fill="none" stroke="#111" stroke-width="3.3" transform="rotate(8.0 405.3 754.3)"/>
<ellipse cx="405.6" cy="754.6" rx="10.0" ry="11.6" fill="none" stroke="#111" stroke-width="1.42" transform="rotate(8.0 405.6 754.6)"/>
<path d="M398.7 771.3 L397.2 771.0 L395.8 770.5 L394.4 769.9 L393.1 769.0 L391.9 768.0 L390.8 766.9 L389.9 765.6 L389.0 764.2 L388.3 762.7 L387.7 761.1 L387.3 759.4 L387.0 757.7 L386.9 755.9 L387.0 754.2 L387.2 752.4 L387.6 750.7 L388.2 749.0 L388.9 747.4 L389.7 745.9 L390.6 744.4 L391.7 743.2 L392.9 742.0 L394.2 741.0 L395.5 740.1 L397.0 739.5 L398.4 739.0" fill="none" stroke="#111" stroke-width="1.53" />
<path d="M393.1 770.3 L391.8 769.7 L390.6 769.0 L389.5 768.1 L388.5 767.1 L387.5 766.0 L386.7 764.7 L386.0 763.3 L385.4 761.9 L385.0 760.3 L384.6 758.7 L384.5 757.1 L384.4 755.4 L384.6 753.7 L384.8 752.1 L385.2 750.5 L385.7 748.9 L386.4 747.4 L387.2 746.0 L388.1 744.6 L389.1 743.4 L390.2 742.3 L391.3 741.4 L392.6 740.6 L393.9 740.0 L395.2 739.5" fill="none" stroke="#111" stroke-width="1.42" />
<path d="M395.0 722.0 L414.0 718.0" fill="none" stroke="#111" stroke-width="1.53" />
<path d="M394.5 729.0 L415.0 725.0" fill="none" stroke="#111" stroke-width="1.53" />
<path d="M401.0 712.0 L402.0 718.0 L408.0 717.0 L408.0 711.0" fill="none" stroke="#111" stroke-width="1.53" />
<path d="M400.0 737.0 L411.0 735.0" fill="none" stroke="#111" stroke-width="1.89" />
<path d="M403.0 738.0 L404.0 743.0 L409.0 742.0 L409.0 737.0" fill="none" stroke="#111" stroke-width="1.42" />
<path d="M396.0 750.0 L414.0 746.0" fill="none" stroke="#111" stroke-width="1.53" />
<path d="M395.5 756.5 L415.0 752.5" fill="none" stroke="#111" stroke-width="1.53" />
<path d="M397.0 762.5 L414.0 759.0" fill="none" stroke="#111" stroke-width="1.53" />
<rect x="402" y="752.3" width="8" height="3.2" fill="#111" transform="rotate(-10 406 754)"/>
<path d="M391.0 733.0 C389.8 731.8 386.5 727.5 384.0 726.0 C381.5 724.5 378.2 723.7 376.0 724.0 C373.8 724.3 371.8 724.7 371.0 728.0 C370.2 731.3 370.5 740.0 371.0 744.0 C371.5 748.0 372.3 750.2 374.0 752.0 C375.7 753.8 378.7 755.0 381.0 755.0 C383.3 755.0 386.8 752.5 388.0 752.0" fill="none" stroke="#111" stroke-width="2.01"/>
<path d="M394.0 736.0 C392.5 735.2 387.3 731.5 385.0 731.0 C382.7 730.5 381.0 730.3 380.0 733.0 C379.0 735.7 378.3 744.0 379.0 747.0 C379.7 750.0 383.2 750.3 384.0 751.0" fill="none" stroke="#111" stroke-width="1.77"/>
<path d="M374.0 727.0 L378.0 733.0" fill="none" stroke="#111" stroke-width="1.65" />
<path d="M388.0 741.0 L388.0 750.0" fill="none" stroke="#111" stroke-width="2.12" />
<path d="M392.0 742.0 L397.0 744.0" fill="none" stroke="#111" stroke-width="2.12" />
<path d="M381.0 730.0 L384.0 724.0 L391.0 726.0" fill="none" stroke="#111" stroke-width="1.2" />
<path d="M386.0 737.0 L392.0 740.0 L392.0 749.0" fill="none" stroke="#111" stroke-width="1.2" />
<ellipse cx="402.0" cy="790.6" rx="9.3" ry="11.0" fill="none" stroke="#111" stroke-width="3.07" transform="rotate(18.0 402.0 790.6)"/>
<ellipse cx="402.3" cy="790.8" rx="6.0" ry="7.6" fill="none" stroke="#111" stroke-width="1.3" transform="rotate(18.0 402.3 790.8)"/>
<path d="M372.7 791.6 L372.0 791.2 L371.5 790.7 L370.9 790.1 L370.4 789.5 L370.0 788.7 L369.7 787.9 L369.4 787.0 L369.2 786.1 L369.1 785.1 L369.1 784.1 L369.1 783.0 L369.3 781.9 L369.5 780.9 L369.8 779.8 L370.2 778.8 L370.6 777.8 L371.1 776.8 L371.6 775.9 L372.3 775.1 L372.9 774.3 L373.6 773.6 L374.3 773.0 L375.1 772.5 L375.9 772.1 L376.6 771.8 L377.4 771.7 L378.2 771.6 L378.9 771.6 L379.6 771.8 L380.3 772.0" fill="none" stroke="#111" stroke-width="1.77" />
<line x1="379.5" y1="771.8" x2="405.0" y2="780.0" stroke="#111" stroke-width="1.77"/>
<line x1="373.5" y1="791.8" x2="398.5" y2="801.0" stroke="#111" stroke-width="1.77"/>
<path d="M377.2 793.3 L376.5 792.9 L376.0 792.4 L375.4 791.8 L374.9 791.2 L374.5 790.4 L374.2 789.6 L373.9 788.7 L373.7 787.8 L373.6 786.8 L373.6 785.8 L373.6 784.7 L373.8 783.6 L374.0 782.6 L374.3 781.5 L374.7 780.5 L375.1 779.5 L375.6 778.5 L376.1 777.6 L376.8 776.8 L377.4 776.0 L378.1 775.3 L378.8 774.7 L379.6 774.2 L380.4 773.8 L381.1 773.5 L381.9 773.4 L382.7 773.3 L383.4 773.3 L384.1 773.5 L384.8 773.7" fill="none" stroke="#111" stroke-width="1.2" />
<path d="M385.1 796.0 L384.4 795.6 L383.7 795.1 L383.1 794.5 L382.6 793.9 L382.2 793.1 L381.8 792.2 L381.5 791.3 L381.3 790.3 L381.2 789.3 L381.1 788.2 L381.2 787.2 L381.3 786.1 L381.5 785.0 L381.8 783.9 L382.2 782.8 L382.6 781.8 L383.2 780.8 L383.7 779.9 L384.4 779.0 L385.1 778.2 L385.8 777.5 L386.6 776.9 L387.4 776.4 L388.2 776.0 L389.0 775.7 L389.8 775.5 L390.6 775.5 L391.4 775.5 L392.2 775.7 L392.9 776.0" fill="none" stroke="#111" stroke-width="1.2" />
<path d="M387.9 774.7 L388.5 775.0 L389.1 775.5 L389.7 776.1 L390.2 776.8 L390.6 777.5 L391.0 778.4 L391.2 779.3 L391.4 780.2 L391.6 781.2 L391.6 782.3 L391.5 783.3 L391.4 784.4 L391.2 785.5 L390.9 786.5 L390.5 787.6 L390.1 788.6 L389.6 789.6 L389.0 790.5 L388.4 791.3 L387.7 792.1 L387.0 792.8 L386.3 793.4 L385.5 793.9 L384.7 794.3 L383.9 794.6 L383.1 794.8 L382.3 794.8 L381.6 794.8 L380.8 794.6 L380.1 794.3" fill="none" stroke="#111" stroke-width="1.2" />
<rect x="386.5" y="783" width="3.4" height="4" fill="#111" transform="rotate(18 388 785)"/>
<rect x="401" y="790" width="3.2" height="4.4" fill="#111" transform="rotate(18 402.5 792)"/>
<path d="M398.0 783.0 C397.6 784.2 395.3 787.7 395.5 790.0 C395.7 792.3 398.4 795.8 399.0 797.0" fill="none" stroke="#111" stroke-width="1.65"/>
<path d="M512.6 731.2 L540.0 727.0 L554.2 724.8 L562.2 720.0 L559.0 711.0 L555.8 700.8 L560.0 698.5 L567.0 699.2 L572.0 706.0 L578.2 712.0 L590.0 711.5 L607.0 708.8 L622.0 703.0 L637.4 696.8 L638.6 704.0 L638.2 712.0 L636.0 735.0 L632.6 756.8 L630.0 768.0 L627.5 777.0 L623.0 787.0 L617.0 795.0 L590.0 804.0 L570.2 810.0 L550.0 816.5 L530.2 822.8 L522.2 819.2 L518.5 812.0 L517.4 804.8 L515.8 760.0 L515.0 736.0Z" fill="none" stroke="#111" stroke-width="1.53" />
<path d="M557 704 L566 702 L577 713 L564 720 Z" fill="none" stroke="#111" stroke-width="1"/>
<line x1="558.0" y1="704.5" x2="566.0" y2="702.0" stroke="#111" stroke-width="1.53"/>
<line x1="560.0" y1="706.7" x2="568.0" y2="704.0" stroke="#111" stroke-width="1.53"/>
<line x1="562.0" y1="708.9" x2="570.0" y2="706.0" stroke="#111" stroke-width="1.53"/>
<line x1="564.0" y1="711.1" x2="572.0" y2="708.0" stroke="#111" stroke-width="1.53"/>
<line x1="566.0" y1="713.3" x2="574.0" y2="710.0" stroke="#111" stroke-width="1.53"/>
<line x1="568.0" y1="715.5" x2="576.0" y2="712.0" stroke="#111" stroke-width="1.53"/>
<line x1="570.0" y1="717.7" x2="578.0" y2="714.0" stroke="#111" stroke-width="1.53"/>
<circle cx="562.5" cy="701" r="2" fill="#111"/>
<path d="M522.0 744.0 C522.8 742.2 526.9 741.8 530.0 741.0 C533.1 740.2 556.2 735.3 559.0 734.5 C561.8 733.7 562.5 731.9 563.0 731.0 C563.5 730.1 564.6 724.9 565.4 724.0 C566.1 723.1 569.3 720.8 572.0 720.0 C574.7 719.2 592.8 715.3 597.4 714.4 C602.0 713.5 624.8 709.8 627.8 709.6 C630.8 709.4 632.5 711.5 633.0 712.0 C633.5 712.5 634.2 714.1 634.2 716.0 C634.2 717.9 632.8 732.1 632.5 735.0 C632.2 737.9 631.4 748.6 631.0 750.4 C630.6 752.1 629.6 755.1 628.0 756.0 C626.4 756.9 614.4 760.3 612.0 761.0 C609.6 761.7 601.7 764.0 599.0 764.8 C596.3 765.6 583.3 769.6 580.0 770.5 C576.7 771.4 562.3 775.2 559.0 776.0 C555.7 776.8 542.8 779.5 540.0 780.0 C537.2 780.5 527.5 782.6 526.0 782.6 C524.5 782.6 522.4 781.2 522.0 779.5 C521.6 777.8 521.0 765.0 521.0 762.0 C521.0 759.0 521.2 745.8 522.0 744.0Z" fill="none" stroke="#111" stroke-width="2.12"/>
<path d="M519.4 741.4 C520.4 739.4 526.7 739.2 530.0 738.4 C533.3 737.6 556.2 732.7 559.0 731.9 C561.8 731.1 562.5 729.3 563.0 728.4 C563.5 727.5 563.9 722.3 564.6 721.4 C565.4 720.5 569.3 718.2 572.0 717.4 C574.7 716.6 592.8 712.7 597.4 711.8 C602.0 710.9 624.6 707.2 627.8 707.0 C631.0 706.8 634.9 708.6 635.6 709.4 C636.4 710.1 636.8 713.9 636.8 716.0 C636.8 718.1 635.4 732.1 635.1 735.0 C634.8 737.9 634.0 748.4 633.6 750.4 C633.2 752.4 632.4 757.5 630.6 758.6 C628.8 759.7 614.6 762.9 612.0 763.6 C609.4 764.3 601.7 766.6 599.0 767.4 C596.3 768.2 583.3 772.2 580.0 773.1 C576.7 774.0 562.3 777.8 559.0 778.6 C555.7 779.4 542.8 782.1 540.0 782.6 C537.2 783.1 527.7 785.2 526.0 785.2 C524.3 785.2 520.0 784.0 519.4 782.1 C518.8 780.2 518.4 765.4 518.4 762.0 C518.4 758.6 518.4 743.4 519.4 741.4Z" fill="none" stroke="#111" stroke-width="1.2"/>
<path d="M524.4 746.4 C524.9 744.9 527.1 744.2 530.0 743.4 C532.9 742.6 556.2 737.7 559.0 736.9 C561.8 736.1 562.4 734.3 563.0 733.4 C563.6 732.5 565.4 727.3 566.1 726.4 C566.9 725.5 569.4 723.2 572.0 722.4 C574.6 721.6 592.8 717.7 597.4 716.8 C602.0 715.9 625.0 712.2 627.8 712.0 C630.6 711.8 630.3 714.1 630.6 714.4 C630.9 714.7 631.8 714.3 631.8 716.0 C631.8 717.7 630.4 732.1 630.1 735.0 C629.8 737.9 629.0 748.9 628.6 750.4 C628.2 751.9 627.0 752.9 625.6 753.6 C624.2 754.3 614.2 757.9 612.0 758.6 C609.8 759.3 601.7 761.6 599.0 762.4 C596.3 763.2 583.3 767.2 580.0 768.1 C576.7 769.0 562.3 772.8 559.0 773.6 C555.7 774.4 542.8 777.1 540.0 777.6 C537.2 778.1 527.3 780.2 526.0 780.2 C524.7 780.2 524.6 778.6 524.4 777.1 C524.2 775.6 523.4 764.6 523.4 762.0 C523.4 759.4 523.9 747.9 524.4 746.4Z" fill="none" stroke="#111" stroke-width="1.2"/>
<path d="M527.0 745.5 L557.5 739.5 L558.5 770.5 L528.0 776.0Z" fill="none" stroke="#111" stroke-width="2.36" />
<path d="M528.0 746.0 L528.8 775.5 L558.0 770.5" fill="none" stroke="#111" stroke-width="3.54" />
<path d="M530.5 748.5 L554.5 743.5 L555.5 768.0 L531.5 772.5Z" fill="none" stroke="#111" stroke-width="1.2" />
<ellipse cx="541.6" cy="757.0" rx="9.8" ry="10.0" fill="none" stroke="#111" stroke-width="1.53"/>
<ellipse cx="541.6" cy="757.0" rx="7.2" ry="7.4" fill="none" stroke="#111" stroke-width="1.3"/>
<ellipse cx="540.8" cy="757.5" rx="4.8" ry="5.0" fill="none" stroke="#111" stroke-width="1.2"/>
<path d="M563.5 733.5 L597.0 722.0 L598.0 764.0 L564.5 773.5Z" fill="none" stroke="#111" stroke-width="2.12" />
<path d="M565.0 772.5 L597.5 763.5" fill="none" stroke="#111" stroke-width="3.07" />
<path d="M566.5 736.0 L594.5 726.0" fill="none" stroke="#111" stroke-width="1.2" />
<path d="M594.5 726.0 L595.5 762.0" fill="none" stroke="#111" stroke-width="1.2" />
<path d="M603.5 724.5 L626.0 717.0 L625.5 745.0 L604.0 751.5Z" fill="none" stroke="#111" stroke-width="2.12" />
<path d="M604.5 750.5 L625.5 744.0 L626.0 718.0" fill="none" stroke="#111" stroke-width="3.07" />
<path d="M606.5 727.0 L623.0 721.5 L622.8 742.5 L607.0 747.5Z" fill="none" stroke="#111" stroke-width="1.2" />
<path d="M606.0 744.0 L613.0 742.0 L614.0 744.0 L624.0 741.0" fill="none" stroke="#111" stroke-width="1.2" />
<path d="M600.3 719.0 L601.0 764.0" fill="none" stroke="#111" stroke-width="1.3" />
<path d="M582.0 760.0 C581.8 759.2 580.5 756.2 581.0 755.0 C581.5 753.8 583.7 752.7 585.0 753.0 C586.3 753.3 587.8 755.8 589.0 757.0 C590.2 758.2 591.5 759.5 592.0 760.0" fill="none" stroke="#111" stroke-width="1.77"/>
<path d="M588.0 756.0 C588.3 755.2 588.8 751.7 590.0 751.0 C591.2 750.3 594.2 751.8 595.0 752.0" fill="none" stroke="#111" stroke-width="1.65"/>
<path d="M522.5 791.0 C526.2 789.0 552.2 784.4 560.0 782.5 C567.8 780.6 594.1 774.0 600.0 772.5 C605.9 771.0 616.4 768.5 619.0 767.5 C621.6 766.5 624.8 762.8 626.0 762.5 C627.2 762.2 630.6 763.8 631.0 765.0 C631.4 766.2 630.8 772.8 630.0 775.0 C629.2 777.2 624.7 785.2 623.0 787.0 C621.3 788.8 616.3 791.8 613.0 793.0 C609.7 794.2 595.3 797.6 590.0 799.0 C584.7 800.4 565.4 805.1 560.0 806.5 C554.6 807.9 539.3 812.0 536.0 812.5 C532.7 813.0 528.3 812.0 527.0 811.0 C525.7 810.0 523.5 805.0 523.0 803.0 C522.5 801.0 518.8 793.0 522.5 791.0Z" fill="none" stroke="#111" stroke-width="1.65"/>
<path d="M530 810 L560 802.8 L590 795.3 L612 789.3 L621 783 L626 775" fill="none" stroke="#111" stroke-width="3.4" stroke-dasharray="2.4 0.6"/>
<path d="M519.0 790.0 C519.1 791.6 519.8 803.4 520.5 806.0 C521.2 808.6 524.6 814.8 526.0 816.0 C527.4 817.2 529.6 818.8 534.0 818.0 C538.4 817.2 562.0 810.4 570.0 808.0 C578.0 805.6 608.3 797.1 614.0 794.5 C619.7 791.9 625.0 785.0 627.0 782.0 C629.0 779.0 632.9 765.8 633.5 764.0" fill="none" stroke="#111" stroke-width="1.2"/>
<path d="M534.0 806.0 l2 -2.6 l4 -1 l2 2z" fill="#111"/>
<path d="M553.0 801.5 l2 -2.6 l4 -1 l2 2z" fill="#111"/>
<path d="M571.0 796.5 l2 -2.6 l4 -1 l2 2z" fill="#111"/>
<path d="M590.0 791.5 l2 -2.6 l4 -1 l2 2z" fill="#111"/>
<path d="M607.0 787.0 l2 -2.6 l4 -1 l2 2z" fill="#111"/>
<path d="M572.5 797.0 L570.5 807.5" fill="none" stroke="#111" stroke-width="1.2" />
<path d="M514.0 733.0 L511.0 730.5 L512.6 728.0" fill="none" stroke="#111" stroke-width="1.65" />
<path d="M515.5 778.0 L511.0 779.5 L512.0 784.0 L516.0 785.0" fill="none" stroke="#111" stroke-width="1.53" />
<path d="M526.5 726.5 L529.0 724.0 L533.0 725.5" fill="none" stroke="#111" stroke-width="1.42" />
<path d="M544.0 723.5 L547.0 721.5 L550.0 722.5" fill="none" stroke="#111" stroke-width="1.42" />
<path d="M592.0 709.0 L596.0 707.0 L600.0 708.0" fill="none" stroke="#111" stroke-width="1.42" />
<path d="M612.0 704.0 L616.0 701.0 L620.0 701.5" fill="none" stroke="#111" stroke-width="1.42" />
<path d="M625.0 778.0 L630.0 780.0" fill="none" stroke="#111" stroke-width="1.2" />
<path d="M217.2 793.0 L237.8 794.7 L241.0 792.0 L239.4 784.8 L246.0 790.6 L256.7 789.8 L254.5 797.0 L252.6 803.0 L255.0 815.0 L257.5 824.4 L262.0 830.0 L269.0 836.0 L280.6 839.2 L285.0 833.0 L290.5 827.7 L300.4 826.0 L306.0 829.0 L312.0 834.3 L316.0 844.0 L318.5 852.4 L321.8 859.0 L321.8 875.4 L316.9 878.7 L315.0 892.0 L313.6 903.4 L330.0 905.0 L329.2 915.0 L320.0 916.6 L316.0 934.0 L312.0 948.0 L302.0 956.0 L280.0 961.0 L259.2 966.0 L244.0 963.5 L231.2 961.0 L229.5 951.2 L236.0 941.3 L237.0 925.0 L237.8 911.7 L241.0 901.8 L240.0 880.0 L239.4 862.3 L241.0 855.7 L233.0 850.0 L226.2 844.0 L225.4 834.3 L220.0 831.0 L214.7 827.7 L215.5 810.0Z" fill="none" stroke="#111" stroke-width="1.53" />
<path d="M222.0 794.0 C221.8 797.0 220.7 806.3 221.0 812.0 C221.3 817.7 223.5 825.3 224.0 828.0" fill="none" stroke="#111" stroke-width="1.2"/>
<path d="M229.0 795.0 C228.8 797.8 227.5 806.2 228.0 812.0 C228.5 817.8 229.5 825.0 232.0 830.0 C234.5 835.0 240.0 837.3 243.0 842.0 C246.0 846.7 248.8 855.3 250.0 858.0" fill="none" stroke="#111" stroke-width="1.2"/>
<path d="M216.0 802.0 L228.0 803.0" fill="none" stroke="#111" stroke-width="1.2" />
<path d="M215.0 818.0 L228.0 819.0" fill="none" stroke="#111" stroke-width="1.2" />
<path d="M239 786 l4 4 l10 -1 l-2 9 l-10 1 z" fill="none" stroke="#111" stroke-width="1.6"/>
<path d="M243.0 795.0 L242.0 804.0 L252.0 803.0" fill="none" stroke="#111" stroke-width="1.65" />
<path d="M235.0 808.5 L251.8 806.0 L252.8 829.0 L245.0 831.0 L235.8 822.7Z" fill="none" stroke="#111" stroke-width="3.42" />
<path d="M238.0 811.0 L249.5 809.3 L250.3 826.0 L245.5 827.5 L238.6 821.5Z" fill="none" stroke="#111" stroke-width="1.2" />
<path d="M253.0 806.0 C253.5 809.3 253.8 820.3 256.0 826.0 C258.2 831.7 265.0 834.7 266.0 840.0 C267.0 845.3 262.7 855.0 262.0 858.0" fill="none" stroke="#111" stroke-width="1.2"/>
<path d="M245.0 832.0 C246.2 834.7 250.2 842.7 252.0 848.0 C253.8 853.3 255.7 855.3 256.0 864.0 C256.3 872.7 255.3 887.3 254.0 900.0 C252.7 912.7 249.0 933.3 248.0 940.0" fill="none" stroke="#111" stroke-width="1.2"/>
<path d="M250.0 836.0 C251.3 838.3 256.0 844.7 258.0 850.0 C260.0 855.3 262.0 859.3 262.0 868.0 C262.0 876.7 259.3 889.3 258.0 902.0 C256.7 914.7 254.7 937.0 254.0 944.0" fill="none" stroke="#111" stroke-width="1.2"/>
<path d="M256.0 830.0 C258.0 832.0 263.7 839.3 268.0 842.0 C272.3 844.7 279.7 845.3 282.0 846.0" fill="none" stroke="#111" stroke-width="1.2"/>
<path d="M262.0 830.0 C263.7 831.3 268.7 836.2 272.0 838.0 C275.3 839.8 280.3 840.5 282.0 841.0" fill="none" stroke="#111" stroke-width="1.2"/>
<path d="M225.0 794.0 C224.9 797.0 224.0 806.2 224.5 812.0 C225.0 817.8 225.8 824.3 228.0 829.0 C230.2 833.7 236.3 838.2 238.0 840.0" fill="none" stroke="#111" stroke-width="1.2"/>
<path d="M233.0 795.0 L232.0 806.0" fill="none" stroke="#111" stroke-width="1.2" />
<path d="M248.0 834.0 C249.3 836.2 254.0 842.3 256.0 847.0 C258.0 851.7 259.8 856.5 260.0 862.0 C260.2 867.5 257.5 877.0 257.0 880.0" fill="none" stroke="#111" stroke-width="1.2"/>
<path d="M259.0 827.0 C260.2 828.2 263.2 832.2 266.0 834.0 C268.8 835.8 274.3 837.3 276.0 838.0" fill="none" stroke="#111" stroke-width="1.65"/>
<path d="M254.0 866.0 C254.3 868.3 254.7 876.7 256.0 880.0 C257.3 883.3 256.3 885.3 262.0 886.0 C267.7 886.7 281.0 884.7 290.0 884.0 C299.0 883.3 311.7 882.3 316.0 882.0" fill="none" stroke="#111" stroke-width="1.2"/>
<path d="M250.0 900.0 C250.3 897.3 250.7 888.0 252.0 884.0 C253.3 880.0 257.0 877.3 258.0 876.0" fill="none" stroke="#111" stroke-width="1.2"/>
<path d="M252.0 803.0 L258.0 803.5 L262.0 812.0" fill="none" stroke="#111" stroke-width="1.2" />
<path d="M256.0 815.0 L262.0 822.0 L270.0 832.0" fill="none" stroke="#111" stroke-width="1.2" />
<path d="M217.0 800.0 L216.0 826.0" fill="none" stroke="#111" stroke-width="1.89" />
<path d="M226.0 836.0 L236.0 842.0 L236.0 850.0" fill="none" stroke="#111" stroke-width="1.2" />
<path d="M230.0 838.0 L232.0 848.0" fill="none" stroke="#111" stroke-width="1.65" />
<path d="M238.0 852.0 L246.0 856.0 L246.0 866.0" fill="none" stroke="#111" stroke-width="1.2" />
<path d="M241.0 868.0 L246.0 870.0 L246.0 880.0 L241.0 882.0" fill="none" stroke="#111" stroke-width="1.3" />
<path d="M241.0 884.0 L246.0 886.0 L247.0 898.0" fill="none" stroke="#111" stroke-width="1.2" />
<path d="M243.0 886.0 L245.0 896.0" fill="none" stroke="#111" stroke-width="1.65" />
<path d="M238.0 912.0 L243.0 912.0 L242.0 925.0 L238.0 928.0" fill="none" stroke="#111" stroke-width="1.2" />
<path d="M236.0 942.0 L242.0 938.0 L244.0 925.0" fill="none" stroke="#111" stroke-width="1.2" />
<path d="M232.0 958.0 L240.0 948.0 L246.0 930.0" fill="none" stroke="#111" stroke-width="1.2" />
<path d="M287.0 832.0 L289.0 829.0 L300.0 828.0 L305.0 831.0" fill="none" stroke="#111" stroke-width="1.2" />
<path d="M291.0 831.5 L296.0 831.0 L296.0 833.5 L291.0 834.0Z" fill="none" stroke="#111" stroke-width="1.2" />
<ellipse cx="301.5" cy="832.5" rx="1.0" ry="1.0" fill="none" stroke="#111" stroke-width="1.2"/>
<path d="M266.0 855.0 C267.5 853.7 272.5 851.1 276.0 850.5 C279.5 849.9 292.3 849.4 296.0 849.5 C299.7 849.6 306.2 850.5 308.0 851.5 C309.8 852.5 311.4 856.1 311.5 858.0 C311.6 859.9 310.1 866.4 309.0 868.0 C307.9 869.6 304.7 871.1 302.0 872.0 C299.3 872.9 289.5 875.0 286.0 875.5 C282.5 876.0 274.5 876.5 272.0 876.0 C269.5 875.5 265.6 872.6 264.5 871.0 C263.4 869.4 262.8 863.9 263.0 862.0 C263.2 860.1 264.5 856.3 266.0 855.0Z" fill="none" stroke="#111" stroke-width="3.19"/>
<path d="M269.0 857.0 C270.3 856.0 274.9 854.0 278.0 853.5 C281.1 853.0 292.7 852.4 296.0 852.5 C299.3 852.6 304.5 853.2 306.0 854.0 C307.5 854.8 308.4 857.6 308.5 859.0 C308.6 860.4 307.5 864.8 306.5 866.0 C305.5 867.2 302.5 868.7 300.0 869.5 C297.5 870.3 288.1 872.1 285.0 872.5 C281.9 872.9 275.0 873.4 273.0 873.0 C271.0 872.6 268.3 870.3 267.5 869.0 C266.7 867.7 266.3 863.4 266.5 862.0 C266.7 860.6 267.7 858.0 269.0 857.0Z" fill="none" stroke="#111" stroke-width="1.2"/>
<path d="M262.0 850.0 C264.0 848.2 271.8 846.2 276.0 845.5 C280.2 844.8 293.8 843.7 298.0 844.0 C302.2 844.3 309.8 846.4 312.0 848.0 C314.2 849.6 316.3 855.3 316.5 858.0 C316.7 860.7 315.0 868.8 313.5 871.0 C312.0 873.2 307.2 875.9 304.0 877.0 C300.8 878.1 290.0 880.0 286.0 880.5 C282.0 881.0 273.0 881.8 270.0 881.0 C267.0 880.2 261.3 876.3 260.0 874.0 C258.7 871.7 258.3 863.8 258.5 861.0 C258.7 858.2 260.0 851.8 262.0 850.0Z" fill="none" stroke="#111" stroke-width="1.2"/>
<path d="M306.0 846.0 C307.3 847.0 312.0 849.3 314.0 852.0 C316.0 854.7 317.7 858.3 318.0 862.0 C318.3 865.7 316.3 872.0 316.0 874.0" fill="none" stroke="#111" stroke-width="1.2"/>
<path d="M321.8 859.0 L324.0 860.0 L324.0 870.0 L321.8 871.0" fill="none" stroke="#111" stroke-width="1.2" />
<path d="M316.0 868.0 L320.0 869.0 L320.0 877.0" fill="none" stroke="#111" stroke-width="1.2" />
<path d="M321.0 906.0 L321.0 915.0" fill="none" stroke="#111" stroke-width="1.2" />
<path d="M323.0 907.5 L327.0 907.5 L327.0 912.5 L323.0 912.5Z" fill="none" stroke="#111" stroke-width="1.2" />
<path d="M313.6 903.4 L310.0 910.0 L312.0 918.0 L308.0 924.0" fill="none" stroke="#111" stroke-width="1.2" />
<path d="M308.0 924.0 L314.0 926.0 L312.0 934.0" fill="none" stroke="#111" stroke-width="1.2" />
<path d="M304.0 940.0 L310.0 942.0 L308.0 950.0" fill="none" stroke="#111" stroke-width="1.2" />
<path d="M310.0 918.0 L318.0 920.0" fill="none" stroke="#111" stroke-width="1.2" />
<path d="M264.5 899.5 C265.2 897.9 267.9 896.5 270.0 896.0 C272.1 895.5 286.4 893.5 290.0 893.0 C293.6 892.5 310.9 888.5 312.7 890.3 C314.4 892.1 311.6 910.8 311.0 915.0 C310.4 919.2 307.1 938.9 305.3 941.3 C303.6 943.7 292.7 943.2 290.0 943.5 C287.3 943.8 274.6 944.9 272.4 944.6 C270.2 944.3 265.0 940.8 264.0 940.0 C263.0 939.2 260.2 936.8 260.0 934.7 C259.8 932.6 261.1 917.9 261.5 915.0 C261.9 912.1 263.8 901.1 264.5 899.5Z" fill="#0a0a0a" stroke="#111" stroke-width="1.2"/>
<path d="M258.5 897.0 C259.8 896.2 260.8 893.4 266.0 892.0 C271.2 890.6 281.8 889.5 290.0 888.5 C298.2 887.5 310.8 886.4 315.0 886.0" fill="none" stroke="#111" stroke-width="1.2"/>
<path d="M258.0 900.0 C257.8 903.3 256.8 913.7 256.5 920.0 C256.2 926.3 255.6 933.7 256.5 938.0 C257.4 942.3 259.4 944.0 262.0 946.0 C264.6 948.0 266.5 949.6 272.0 950.0 C277.5 950.4 288.8 949.3 295.0 948.5 C301.2 947.7 306.7 945.6 309.0 945.0" fill="none" stroke="#111" stroke-width="1.2"/>
<path d="M267.5 888.5 q2 -4 6 -4 l4.5 1 q-0.5 5.5 -3 8 l-7.5 0.5z" fill="#111"/>
<path d="M290.0 944.0 L288.0 961.0" fill="none" stroke="#111" stroke-width="1.2" />
<path d="M302.0 942.0 L300.0 956.0" fill="none" stroke="#111" stroke-width="1.2" />
<path d="M246.0 962.0 C247.0 960.3 250.0 954.3 252.0 952.0 C254.0 949.7 257.0 948.7 258.0 948.0" fill="none" stroke="#111" stroke-width="1.2"/>
<path d="M258.0 880.0 L290.0 876.0 L314.0 879.0" fill="none" stroke="#111" stroke-width="1.2" />
<ellipse cx="611.2" cy="860.4" rx="14.6" ry="14.6" fill="none" stroke="#111" stroke-width="2.95"/>
<ellipse cx="611.2" cy="860.4" rx="11.8" ry="12.2" fill="none" stroke="#111" stroke-width="1.3"/>
<path d="M616.5 875.4 L615.0 876.1 L613.4 876.7 L611.7 877.2 L610.0 877.4 L608.3 877.5 L606.6 877.4 L604.9 877.1 L603.3 876.6 L601.7 876.0 L600.2 875.2 L598.8 874.2 L597.5 873.1 L596.3 871.9 L595.3 870.5 L594.4 869.0 L593.7 867.5 L593.1 865.9 L592.7 864.2 L592.5 862.5 L592.5 860.8 L592.7 859.1 L593.0 857.4 L593.6 855.8 L594.3 854.2 L595.1 852.7 L596.1 851.4 L597.3 850.1 L598.6 849.0 L600.0 848.0 L601.5 847.1 L603.0 846.5" fill="none" stroke="#111" stroke-width="1.42" />
<path d="M596.0 858.0 L592.0 861.5 L593.5 866.0 L598.0 866.5" fill="none" stroke="#111" stroke-width="1.53" />
<ellipse cx="595.0" cy="863.2" rx="1.2" ry="1.2" fill="none" stroke="#111" stroke-width="1.2"/>
<path d="M606.0 875.5 L606.5 879.5 L616.0 879.0 L616.5 874.5" fill="none" stroke="#111" stroke-width="1.65" />
<path d="M609.0 877.0 L614.0 876.8" fill="none" stroke="#111" stroke-width="2.12" />
<path d="M624.5 853.5 L627.5 856.0 L627.0 861.5 L625.0 864.0" fill="none" stroke="#111" stroke-width="1.53" />
<path d="M537.6 951.6 C538.2 950.0 544.7 931.3 546.0 928.0 C547.3 924.7 556.5 904.0 557.6 902.0 C558.7 900.0 561.3 898.4 562.0 898.0 C562.7 897.6 565.5 896.3 568.0 895.6 C570.5 894.9 594.1 888.5 600.0 887.0 C605.9 885.5 652.0 874.1 656.0 873.2 C660.0 872.3 659.6 873.8 660.0 874.0 C660.4 874.2 661.5 875.6 661.6 876.4 C661.7 877.2 661.6 884.8 661.5 886.0 C661.4 887.2 661.5 893.2 660.8 894.0 C660.1 894.8 651.7 897.7 651.0 898.0" fill="none" stroke="#111" stroke-width="1.53"/>
<path d="M651.0 898.0 L648.0 902.0 L620.0 909.0 L587.2 919.6" fill="none" stroke="#111" stroke-width="1.53" />
<path d="M587.2 919.6 C586.5 919.9 580.1 922.3 579.0 923.0 C577.9 923.7 575.1 926.2 574.4 927.6 C573.6 929.0 570.7 938.0 570.0 940.0 C569.3 942.0 567.9 950.4 566.4 951.6 C564.9 952.8 554.4 954.0 552.0 954.0 C549.6 954.0 538.8 951.8 537.6 951.6" fill="none" stroke="#111" stroke-width="1.53"/>
<path d="M660.8 894.0 C661.1 894.2 664.0 895.5 664.5 896.0 C665.0 896.5 666.3 899.1 666.4 900.4 C666.5 901.7 665.7 910.3 665.5 912.0 C665.3 913.7 664.8 920.4 664.0 921.2 C663.2 922.0 656.9 922.6 656.0 922.0 C655.1 921.4 653.9 915.4 653.5 914.0 C653.1 912.6 651.7 906.2 651.2 905.2 C650.7 904.2 648.3 902.3 648.0 902.0" fill="none" stroke="#111" stroke-width="1.53"/>
<path d="M657.0 898.0 L658.5 920.0" fill="none" stroke="#111" stroke-width="1.2" />
<path d="M662.0 897.0 L661.5 921.0" fill="none" stroke="#111" stroke-width="1.2" />
<path d="M648.0 902.0 L650.0 908.0 L653.0 908.0" fill="none" stroke="#111" stroke-width="1.2" />
<path d="M586.0 897.5 C586.7 896.9 588.2 896.0 591.0 895.2 C593.8 894.4 615.8 888.7 620.0 887.6 C624.2 886.5 638.9 882.7 641.0 882.4 C643.1 882.1 644.5 883.2 645.0 883.5 C645.5 883.8 646.8 885.6 647.0 886.5 C647.2 887.4 647.1 892.9 647.0 894.0 C646.9 895.1 647.9 898.6 645.6 899.6 C643.4 900.6 624.6 904.8 620.0 906.0 C615.4 907.2 592.9 913.1 590.0 913.6 C587.1 914.1 586.1 912.8 585.5 912.5 C584.9 912.2 583.2 910.3 583.0 909.5 C582.8 908.7 582.8 904.0 583.0 903.0 C583.2 902.0 585.3 898.1 586.0 897.5Z" fill="#0a0a0a" stroke="#111" stroke-width="1.2"/>
<path d="M576.0 912.0 C576.2 911.0 577.2 901.5 578.0 900.0 C578.8 898.5 581.5 894.9 585.0 893.5 C588.5 892.1 615.1 884.8 620.0 883.5 C624.9 882.2 641.3 877.8 644.0 877.5 C646.7 877.2 651.2 879.1 652.0 880.0 C652.8 880.9 654.0 886.5 654.0 888.0 C654.0 889.5 652.2 897.2 652.0 898.0" fill="none" stroke="#111" stroke-width="1.2"/>
<path d="M570.0 917.0 C570.2 915.8 571.1 904.2 572.0 902.0 C572.9 899.8 577.0 892.8 581.0 891.0 C585.0 889.2 614.2 881.4 620.0 880.0 C625.8 878.6 647.5 874.3 650.0 873.8" fill="none" stroke="#111" stroke-width="1.2"/>
<path d="M582.0 918.0 L620.0 908.5 L648.0 901.5" fill="none" stroke="#111" stroke-width="1.2" />
<path d="M600 911.5 L648 899.5" fill="none" stroke="#111" stroke-width="1.6" stroke-dasharray="1.3 1"/>
<path d="M617.0 884.5 L618.0 880.5" fill="none" stroke="#111" stroke-width="1.2" />
<path d="M546.0 951.0 C547.7 946.5 552.7 931.5 556.0 924.0 C559.3 916.5 563.0 910.2 566.0 906.0 C569.0 901.8 572.7 900.2 574.0 899.0" fill="none" stroke="#111" stroke-width="1.2"/>
<path d="M556.0 953.0 C557.2 949.2 560.7 936.0 563.0 930.0 C565.3 924.0 568.8 919.2 570.0 917.0" fill="none" stroke="#111" stroke-width="1.2"/>
<path d="M549.0 927.0 C550.8 926.0 556.5 922.7 560.0 921.0 C563.5 919.3 568.3 917.7 570.0 917.0" fill="none" stroke="#111" stroke-width="1.2"/>
<path d="M546.0 934.0 C547.7 934.0 552.7 933.0 556.0 934.0 C559.3 935.0 564.3 939.0 566.0 940.0" fill="none" stroke="#111" stroke-width="1.2"/>
<path d="M562.0 898.0 L566.0 908.0" fill="none" stroke="#111" stroke-width="1.2" />
<path d="M578.0 893.0 L574.0 900.0" fill="none" stroke="#111" stroke-width="1.2" />
<path d="M543.5 932.0 L541.5 933.0 L542.0 936.0" fill="none" stroke="#111" stroke-width="1.2" />
<path d="M560.0 922.0 C561.0 921.0 563.0 917.5 566.0 916.0 C569.0 914.5 576.0 913.5 578.0 913.0" fill="none" stroke="#111" stroke-width="1.2"/>
<path d="M599.4 1020.5 L626.8 1013.8 L646.2 1018.7 L646.6 1021.0 L615.1 1029.0Z" fill="none" stroke="#111" stroke-width="1.53" />
<path d="M605.2 1020.5 L626.8 1015.6 L641.2 1019.2 L616.0 1025.0Z" fill="none" stroke="#111" stroke-width="1.2" />
<path d="M615.1 1029.0 L615.1 1026.7" fill="none" stroke="#111" stroke-width="1.2" />
<path d="M615.1 1026.7 L646.2 1018.7" fill="none" stroke="#111" stroke-width="1.2" />
<path d="M615.1 1026.7 L599.4 1020.5" fill="none" stroke="#111" stroke-width="2.6" />
<path d="M614.0 1018.5 L628.0 1022.0" fill="none" stroke="#111" stroke-width="1.2" />
<path d="M630.0 1025.0 L631.0 1022.5" fill="none" stroke="#111" stroke-width="1.2" />
<path d="M505.2 1139.8 L545.9 1129.3 L563.5 1138.1 L563.5 1141.4 L523.3 1151.3Z" fill="none" stroke="#111" stroke-width="1.53" />
<path d="M512.3 1140.9 L545.3 1132.6 L556.3 1138.0 L523.3 1146.2Z" fill="none" stroke="#111" stroke-width="1.2" />
<path d="M523.3 1151.3 L523.3 1148.0" fill="none" stroke="#111" stroke-width="1.2" />
<path d="M523.3 1148.0 L563.5 1138.1" fill="none" stroke="#111" stroke-width="1.2" />
<path d="M523.3 1148.0 L505.2 1139.8" fill="none" stroke="#111" stroke-width="2.6" />
<path d="M585.4 1119.2 L672.4 1094.6 L691.3 1100.4 L689.8 1104.7 L605.7 1130.1Z" fill="none" stroke="#111" stroke-width="1.53" />
<path d="M591.2 1119.2 L672.4 1097.5 L682.6 1101.1 L604.3 1124.3Z" fill="none" stroke="#111" stroke-width="1.2" />
<path d="M605.7 1130.1 L605.7 1125.8" fill="none" stroke="#111" stroke-width="1.2" />
<path d="M605.7 1125.8 L691.3 1100.4" fill="none" stroke="#111" stroke-width="1.2" />
<path d="M605.7 1125.8 L585.4 1119.2" fill="none" stroke="#111" stroke-width="2.6" />
<path d="M726.0 1078.0 L769.0 1065.0 L787.5 1072.0 L786.0 1075.0 L743.0 1089.0Z" fill="none" stroke="#111" stroke-width="1.53" />
<path d="M733.0 1079.0 L768.0 1068.0 L780.0 1072.5 L744.0 1084.2Z" fill="none" stroke="#111" stroke-width="1.2" />
<path d="M743.0 1089.0 L743.0 1086.0" fill="none" stroke="#111" stroke-width="1.2" />
<path d="M743.0 1086.0 L787.5 1072.0" fill="none" stroke="#111" stroke-width="1.2" />
<path d="M743.0 1086.0 L726.0 1078.0" fill="none" stroke="#111" stroke-width="2.6" />
<path d="M616.0 962.0 L649.3 957.5 L649.8 995.3 L616.9 1004.8Z" fill="none" stroke="#111" stroke-width="2.83" />
<path d="M598.5 962.0 L614.7 964.7 L615.6 1004.3 L599.4 1000.7Z" fill="none" stroke="#111" stroke-width="1.65" />
<path d="M626.8 963.0 L627.7 990.8 L649.0 994.5" fill="none" stroke="#111" stroke-width="1.3" />
<path d="M629.2 962.5 L630.0 990.0" fill="none" stroke="#111" stroke-width="1.2" />
<path d="M627.7 990.8 L617.0 1000.0" fill="none" stroke="#111" stroke-width="1.2" />
<path d="M617.0 997.0 L634.0 1000.0" fill="none" stroke="#111" stroke-width="1.2" />
<path d="M620.0 993.5 L642.0 997.5" fill="none" stroke="#111" stroke-width="1.2" />
<path d="M598.5 962.0 L599.0 957.5 L602.0 956.0 L612.0 954.5 L614.5 957.0 L615.0 962.0" fill="none" stroke="#111" stroke-width="1.65" />
<path d="M601.0 958.0 L606.0 962.5" fill="none" stroke="#111" stroke-width="1.42" />
<path d="M609.0 960.0 L610.0 963.5" fill="none" stroke="#111" stroke-width="1.42" />
<path d="M615.0 958.5 L632.0 955.8 L650.0 956.0" fill="none" stroke="#111" stroke-width="1.42" />
<path d="M635.8 955.7 C635.9 954.9 635.6 952.2 636.5 951.0 C637.4 949.8 639.3 949.1 641.2 948.5 C643.1 947.9 646.2 947.4 648.0 947.2 C649.8 947.1 651.0 946.9 652.0 947.6 C653.0 948.3 654.1 950.3 653.8 951.2 C653.5 952.1 650.6 952.7 650.0 953.0" fill="none" stroke="#111" stroke-width="1.77"/>
<path d="M641.0 956.0 C641.2 955.5 640.8 953.7 642.0 953.0 C643.2 952.3 646.7 952.0 648.0 952.0 C649.3 952.0 649.7 952.8 650.0 953.0" fill="none" stroke="#111" stroke-width="1.42"/>
<path d="M611.0 975.0 L614.0 975.3" fill="none" stroke="#111" stroke-width="2.36" />
<path d="M600.0 997.0 C600.2 995.8 600.0 991.4 601.0 990.0 C602.0 988.6 604.8 988.5 606.0 988.5 C607.2 988.5 608.0 989.2 608.0 990.0 C608.0 990.8 606.5 991.2 606.0 993.0 C605.5 994.8 605.2 999.7 605.0 1001.0" fill="none" stroke="#111" stroke-width="1.53"/>
<path d="M650.5 966.0 L651.5 968.0" fill="none" stroke="#111" stroke-width="1.89" />
<path d="M488.7 1096.3 C489.5 1095.3 496.4 1093.8 500.0 1093.0 C503.6 1092.2 539.1 1083.6 542.0 1083.7 C544.9 1083.8 542.9 1093.5 543.0 1095.0 C543.1 1096.5 545.7 1105.0 544.2 1106.2 C542.7 1107.4 522.9 1111.8 520.0 1112.5 C517.1 1113.2 502.0 1117.1 500.2 1117.2 C498.4 1117.3 493.8 1115.2 493.0 1114.5 C492.2 1113.8 489.0 1108.5 488.7 1107.3 C488.4 1106.1 487.9 1097.3 488.7 1096.3Z" fill="none" stroke="#111" stroke-width="3.42"/>
<path d="M488.5 1096.0 C487.4 1095.5 483.9 1093.2 482.0 1093.0 C480.1 1092.8 477.9 1093.7 477.0 1095.0 C476.1 1096.3 476.1 1099.3 476.5 1101.0 C476.9 1102.7 477.3 1103.2 479.3 1105.0 C481.3 1106.8 487.1 1110.6 488.7 1111.7" fill="none" stroke="#111" stroke-width="1.53"/>
<path d="M477.5 1094.0 C477.9 1092.9 478.6 1088.8 480.0 1087.5 C481.4 1086.2 484.0 1085.8 486.0 1086.0 C488.0 1086.2 490.8 1087.3 492.0 1088.5 C493.2 1089.7 492.8 1092.2 493.0 1093.0" fill="none" stroke="#111" stroke-width="1.53"/>
<ellipse cx="483.0" cy="1090.0" rx="1.6" ry="1.4" fill="none" stroke="#111" stroke-width="1.2"/>
<path d="M493.0 1089.0 L505.0 1086.2" fill="none" stroke="#111" stroke-width="1.3" />
<path d="M524.0 1082.0 L541.0 1083.5" fill="none" stroke="#111" stroke-width="1.3" />
<path d="M523.0 1089.5 L524.0 1099.0 L543.0 1104.5" fill="none" stroke="#111" stroke-width="1.3" />
<path d="M524.0 1099.0 L492.0 1106.5" fill="none" stroke="#111" stroke-width="1.3" />
<path d="M522.0 1085.0 L523.0 1089.5" fill="none" stroke="#111" stroke-width="1.2" />
<path d="M540.0 1086.0 L540.8 1103.0" fill="none" stroke="#111" stroke-width="1.2" />
<path d="M494 1104.5 L524 1097" fill="none" stroke="#111" stroke-width="2" stroke-dasharray="2.6 2.4"/>
<ellipse cx="505" cy="1111" rx="1.6" ry="0.9" fill="#111"/><ellipse cx="527.5" cy="1105.5" rx="1.6" ry="0.9" fill="#111"/>
<path d="M499.0 1082.0 L503.0 1083.0 L512.0 1081.5" fill="none" stroke="#111" stroke-width="2.36" />
<path d="M503.5 1084.0 L505.0 1090.5" fill="none" stroke="#111" stroke-width="1.65" />
<path d="M508.5 1083.0 L509.5 1089.5" fill="none" stroke="#111" stroke-width="1.65" />
<path d="M513.0 1082.0 L514.0 1088.5" fill="none" stroke="#111" stroke-width="1.65" />
<path d="M515.5 1087.0 C515.5 1085.8 514.8 1081.8 515.5 1080.0 C516.2 1078.2 518.2 1076.7 519.5 1076.5 C520.8 1076.3 522.4 1077.6 523.0 1079.0 C523.6 1080.4 523.0 1084.0 523.0 1085.0" fill="none" stroke="#111" stroke-width="1.65"/>
<ellipse cx="519.5" cy="1079.8" rx="1.2" ry="1.2" fill="none" stroke="#111" stroke-width="1.2"/>
<ellipse cx="491.4" cy="1116.7" rx="2.8" ry="2.8" fill="none" stroke="#111" stroke-width="1.53"/>
<ellipse cx="509.6" cy="1118.5" rx="3.0" ry="2.2" fill="none" stroke="#111" stroke-width="1.53"/>
<path d="M528.0 1111.0 L529.0 1114.0 L537.0 1112.5 L536.5 1109.0" fill="none" stroke="#111" stroke-width="1.42" />
<path d="M576.7 1075.7 C578.2 1074.6 595.8 1070.6 600.0 1069.5 C604.2 1068.4 634.5 1060.9 640.0 1059.5 C645.5 1058.1 679.6 1049.4 682.6 1048.9 C685.6 1048.4 684.8 1051.5 685.0 1052.0 C685.2 1052.5 685.6 1056.2 685.5 1056.9 C685.4 1057.6 684.3 1061.3 684.0 1062.0 C683.7 1062.7 681.7 1066.4 681.1 1067.0 C680.5 1067.6 675.9 1071.0 675.0 1071.5 C674.1 1072.0 671.1 1073.4 668.1 1074.3 C665.1 1075.2 635.1 1083.6 630.0 1085.0 C624.9 1086.4 594.2 1095.3 591.2 1096.0 C588.2 1096.7 585.7 1095.7 585.0 1095.5 C584.3 1095.3 581.5 1093.5 581.1 1093.1 C580.7 1092.7 578.7 1090.5 578.5 1090.0 C578.3 1089.5 577.6 1086.9 577.5 1085.9 C577.4 1084.9 575.2 1076.8 576.7 1075.7Z" fill="none" stroke="#111" stroke-width="3.3"/>
<path d="M580.5 1078.5 C584.4 1077.1 633.4 1064.7 640.0 1063.0 C646.6 1061.3 676.2 1053.9 679.0 1053.5 C681.8 1053.1 681.5 1056.8 681.5 1057.5 C681.5 1058.2 679.9 1063.1 679.0 1064.0 C678.1 1064.9 673.8 1068.7 668.0 1070.5 C662.2 1072.3 597.6 1090.2 592.0 1091.5 C586.4 1092.8 584.7 1090.0 584.0 1089.5 C583.3 1089.0 581.2 1084.7 581.0 1084.0 C580.8 1083.3 576.6 1079.9 580.5 1078.5Z" fill="none" stroke="#111" stroke-width="1.2"/>
<path d="M576.5 1075.5 C575.4 1075.1 571.8 1073.2 570.0 1073.0 C568.2 1072.8 566.4 1073.5 565.5 1074.5 C564.6 1075.5 564.2 1077.3 564.4 1079.0 C564.6 1080.7 565.3 1083.0 566.6 1084.4 C567.9 1085.8 570.1 1086.5 572.0 1087.5 C573.9 1088.5 577.2 1089.8 578.2 1090.2" fill="none" stroke="#111" stroke-width="1.53"/>
<path d="M566.0 1074.0 C566.3 1073.2 566.8 1070.1 568.0 1069.0 C569.2 1067.9 571.3 1067.3 573.0 1067.5 C574.7 1067.7 576.8 1068.8 578.0 1070.0 C579.2 1071.2 579.7 1073.8 580.0 1074.5" fill="none" stroke="#111" stroke-width="1.53"/>
<path d="M569.5 1070.5 C569.9 1070.9 571.0 1072.3 572.0 1073.0 C573.0 1073.7 574.9 1074.2 575.5 1074.5" fill="none" stroke="#111" stroke-width="1.3"/>
<path d="M582.5 1067.8 L602.0 1063.0" fill="none" stroke="#111" stroke-width="1.3" />
<path d="M608.0 1061.5 L644.0 1052.5" fill="none" stroke="#111" stroke-width="1.3" />
<path d="M650.0 1051.0 L665.2 1047.5 L671.0 1047.5" fill="none" stroke="#111" stroke-width="1.3" />
<path d="M603.2 1064.0 C603.2 1063.0 602.6 1059.3 603.0 1058.0 C603.4 1056.7 604.6 1056.1 605.5 1056.0 C606.4 1055.9 607.9 1056.2 608.5 1057.5 C609.1 1058.8 608.9 1062.5 609.0 1063.5" fill="none" stroke="#111" stroke-width="1.65"/>
<path d="M645.0 1053.5 C645.0 1052.5 644.4 1048.8 644.8 1047.5 C645.2 1046.2 646.5 1045.6 647.5 1045.5 C648.5 1045.4 649.9 1045.8 650.5 1047.0 C651.1 1048.2 650.9 1051.6 651.0 1052.5" fill="none" stroke="#111" stroke-width="1.65"/>
<path d="M671.5 1048.5 C671.6 1047.6 671.1 1044.6 672.0 1043.0 C672.9 1041.4 675.2 1039.5 676.8 1038.8 C678.4 1038.1 680.3 1038.0 681.5 1038.6 C682.7 1039.2 684.1 1041.5 684.0 1042.4 C683.9 1043.3 681.5 1043.7 681.0 1044.0" fill="none" stroke="#111" stroke-width="1.65"/>
<path d="M676.0 1047.0 C676.1 1046.4 675.8 1044.3 676.5 1043.5 C677.2 1042.7 679.2 1041.9 680.0 1042.0 C680.8 1042.1 681.2 1043.7 681.5 1044.0" fill="none" stroke="#111" stroke-width="1.3"/>
<path d="M582.0 1082.0 L618.0 1072.5 L650.0 1063.0" fill="none" stroke="#111" stroke-width="1.2" />
<path d="M650.0 1063.0 C651.3 1062.5 656.2 1061.2 658.0 1060.0 C659.8 1058.8 660.5 1056.2 661.0 1055.5" fill="none" stroke="#111" stroke-width="1.2"/>
<path d="M583.0 1085.5 L620.0 1075.5 L652.0 1066.0" fill="none" stroke="#111" stroke-width="1.2" />
<path d="M618.0 1072.5 L634.0 1083.0" fill="none" stroke="#111" stroke-width="1.2" />
<path d="M620.0 1060.0 L628.0 1063.0" fill="none" stroke="#111" stroke-width="1.2" />
<path d="M618.0 1075.5 L606.0 1079.0" fill="none" stroke="#111" stroke-width="1.2" />
<ellipse cx="597.5" cy="1088.5" rx="1.6" ry="0.9" fill="#111"/><ellipse cx="660.5" cy="1071.5" rx="1.6" ry="0.9" fill="#111"/>
<ellipse cx="579.5" cy="1094.8" rx="2.6" ry="2.6" fill="none" stroke="#111" stroke-width="1.53"/>
<path d="M594.0 1095.5 L600.0 1099.5" fill="none" stroke="#111" stroke-width="2.36" />
<path d="M652.0 1079.5 L660.0 1083.5" fill="none" stroke="#111" stroke-width="2.36" />
<ellipse cx="619.5" cy="1091.0" rx="2.4" ry="1.6" fill="none" stroke="#111" stroke-width="1.42"/>
<path d="M728.5 1037.0 C729.7 1036.0 747.3 1031.3 750.0 1030.5 C752.7 1029.7 772.3 1024.2 774.0 1023.8 C775.7 1023.3 777.6 1022.9 778.0 1023.0 C778.4 1023.1 780.3 1025.1 780.5 1025.5 C780.7 1025.9 781.0 1028.4 781.0 1029.0 C781.0 1029.6 780.2 1034.3 780.0 1035.0 C779.8 1035.7 778.6 1039.4 778.0 1040.0 C777.4 1040.6 771.7 1044.3 770.0 1045.0 C768.3 1045.7 752.4 1050.7 750.0 1051.5 C747.6 1052.3 731.2 1058.2 730.0 1058.0 C728.8 1057.8 729.3 1049.3 729.2 1048.0 C729.1 1046.7 727.3 1038.0 728.5 1037.0Z" fill="none" stroke="#111" stroke-width="3.3"/>
<path d="M731.5 1040.0 C734.1 1039.2 772.2 1027.6 775.0 1027.0 C777.8 1026.4 777.5 1029.3 777.5 1030.0 C777.5 1030.7 775.6 1037.8 775.0 1038.5 C774.4 1039.2 770.5 1041.6 768.0 1042.5 C765.5 1043.4 734.6 1053.3 732.5 1054.0" fill="none" stroke="#111" stroke-width="1.2"/>
<path d="M728.5 1037.0 C727.7 1036.8 717.1 1034.1 716.0 1034.0 C714.9 1033.9 712.8 1034.7 712.5 1035.0 C712.2 1035.3 711.5 1037.3 711.5 1038.0 C711.5 1038.7 711.9 1045.3 712.0 1046.0 C712.1 1046.7 711.4 1048.3 712.5 1049.0 C713.6 1049.7 727.4 1055.5 728.5 1056.0" fill="none" stroke="#111" stroke-width="1.53"/>
<path d="M712.5 1034.5 L715.0 1032.0 L742.0 1025.0" fill="none" stroke="#111" stroke-width="1.42" />
<path d="M748.0 1023.5 L762.0 1021.0 L768.0 1022.0" fill="none" stroke="#111" stroke-width="1.3" />
<path d="M731.5 1043.5 C734.6 1042.6 745.9 1039.5 750.0 1038.0 C754.1 1036.5 754.5 1035.8 756.0 1034.5 C757.5 1033.2 758.5 1030.8 759.0 1030.0" fill="none" stroke="#111" stroke-width="1.2"/>
<path d="M731.5 1046.0 L752.0 1040.0" fill="none" stroke="#111" stroke-width="1.2" />
<path d="M742.0 1028.0 L742.0 1020.5 L744.5 1019.0 L747.5 1020.0 L748.0 1027.5" fill="none" stroke="#111" stroke-width="1.77" />
<path d="M766.0 1022.0 C766.2 1021.2 766.3 1018.3 767.0 1017.0 C767.7 1015.7 768.8 1014.9 770.0 1014.0 C771.2 1013.1 772.8 1012.2 774.0 1011.8 C775.2 1011.4 776.1 1011.1 777.0 1011.5 C777.9 1011.9 778.8 1013.1 779.5 1014.0 C780.2 1014.9 781.2 1016.3 781.0 1017.0 C780.8 1017.7 778.5 1017.8 778.0 1018.0" fill="none" stroke="#111" stroke-width="1.77"/>
<path d="M771.0 1021.5 C771.2 1020.8 771.2 1018.4 772.0 1017.5 C772.8 1016.6 775.0 1015.9 776.0 1016.0 C777.0 1016.1 777.7 1017.7 778.0 1018.0" fill="none" stroke="#111" stroke-width="1.3"/>
<path d="M715.5 1055.5 L724.5 1056.0 L724.0 1063.0 L715.5 1064.5Z" fill="none" stroke="#111" stroke-width="1.53" />
<circle cx="719" cy="1058.5" r="0.9" fill="#111"/><circle cx="719" cy="1061.5" r="0.9" fill="#111"/>
<path d="M719.0 1050.0 L720.0 1055.5" fill="none" stroke="#111" stroke-width="1.2" />
<ellipse cx="735.5" cy="1051" rx="1.5" ry="0.9" fill="#111"/><ellipse cx="760" cy="1043.5" rx="1.5" ry="0.9" fill="#111"/>
<path d="M748.0 1053.0 L754.0 1055.0 L754.5 1052.5" fill="none" stroke="#111" stroke-width="1.42" />
<line x1="167.5" y1="408.0" x2="167.5" y2="422.0" stroke="#000" stroke-width="2.0"/>
<line x1="274.0" y1="290.0" x2="274.0" y2="323.0" stroke="#000" stroke-width="2.0"/>
<line x1="356.8" y1="279.0" x2="356.8" y2="306.0" stroke="#000" stroke-width="2.0"/>
<line x1="430.0" y1="334.0" x2="430.0" y2="374.0" stroke="#000" stroke-width="2.0"/>
<line x1="543.8" y1="307.0" x2="540.0" y2="347.0" stroke="#000" stroke-width="2.0"/>
<line x1="613.0" y1="328.0" x2="619.5" y2="435.0" stroke="#000" stroke-width="2.0"/>
<line x1="771.5" y1="310.0" x2="771.5" y2="333.8" stroke="#000" stroke-width="2.0"/>
<line x1="88.0" y1="588.8" x2="105.8" y2="588.8" stroke="#000" stroke-width="2.0"/>
<line x1="161.0" y1="671.3" x2="172.0" y2="671.3" stroke="#000" stroke-width="2.0"/>
<line x1="202.0" y1="746.8" x2="224.5" y2="746.0" stroke="#000" stroke-width="2.0"/>
<line x1="225.0" y1="583.0" x2="223.8" y2="601.0" stroke="#000" stroke-width="2.0"/>
<line x1="326.0" y1="540.0" x2="345.8" y2="540.0" stroke="#000" stroke-width="2.0"/>
<line x1="478.0" y1="536.3" x2="455.0" y2="536.3" stroke="#000" stroke-width="2.0"/>
<line x1="435.0" y1="628.0" x2="435.0" y2="637.5" stroke="#000" stroke-width="2.0"/>
<line x1="540.0" y1="551.0" x2="540.0" y2="578.8" stroke="#000" stroke-width="2.0"/>
<line x1="614.0" y1="523.3" x2="636.8" y2="523.3" stroke="#000" stroke-width="2.0"/>
<line x1="733.0" y1="640.9" x2="717.0" y2="642.7" stroke="#000" stroke-width="2.0"/>
<line x1="779.9" y1="548.0" x2="776.2" y2="506.0" stroke="#000" stroke-width="2.0"/>
<line x1="855.2" y1="554.0" x2="855.2" y2="575.0" stroke="#000" stroke-width="2.0"/>
<line x1="910.8" y1="418.0" x2="910.8" y2="438.8" stroke="#000" stroke-width="2.0"/>
<line x1="161.0" y1="848.0" x2="207.5" y2="845.5" stroke="#000" stroke-width="2.0"/>
<line x1="345.0" y1="782.0" x2="354.5" y2="781.3" stroke="#000" stroke-width="2.0"/>
<line x1="391.3" y1="702.0" x2="391.3" y2="710.5" stroke="#000" stroke-width="2.0"/>
<line x1="482.0" y1="739.0" x2="482.0" y2="764.3" stroke="#000" stroke-width="2.0"/>
<line x1="677.0" y1="702.4" x2="647.0" y2="713.2" stroke="#000" stroke-width="2.0"/>
<line x1="740.0" y1="748.5" x2="697.4" y2="740.2" stroke="#000" stroke-width="2.0"/>
<line x1="515.6" y1="855.4" x2="536.5" y2="848.9" stroke="#000" stroke-width="2.0"/>
<line x1="515.6" y1="866.2" x2="526.4" y2="871.6" stroke="#000" stroke-width="2.0"/>
<line x1="632.0" y1="815.8" x2="624.3" y2="821.2" stroke="#000" stroke-width="2.0"/>
<line x1="663.5" y1="843.9" x2="645.2" y2="851.8" stroke="#000" stroke-width="2.0"/>
<line x1="683.0" y1="893.9" x2="662.5" y2="893.9" stroke="#000" stroke-width="2.0"/>
<line x1="558.0" y1="974.0" x2="582.6" y2="971.3" stroke="#000" stroke-width="2.0"/>
<line x1="675.5" y1="1007.3" x2="654.3" y2="1009.0" stroke="#000" stroke-width="2.0"/>
<line x1="480.6" y1="1061.0" x2="480.6" y2="1069.2" stroke="#000" stroke-width="2.0"/>
<line x1="458.5" y1="1153.2" x2="491.1" y2="1149.1" stroke="#000" stroke-width="2.0"/>
<line x1="564.9" y1="1045.0" x2="564.9" y2="1052.2" stroke="#000" stroke-width="2.0"/>
<line x1="631.2" y1="1153.5" x2="631.2" y2="1137.2" stroke="#000" stroke-width="2.0"/>
<line x1="745.0" y1="995.5" x2="745.0" y2="1004.3" stroke="#000" stroke-width="2.0"/>
<line x1="818.5" y1="1064.3" x2="797.5" y2="1064.3" stroke="#000" stroke-width="2.0"/>
<rect x="149.7" y="368.5" width="38" height="38" fill="#fff" stroke="#000" stroke-width="3"/>
<path d="M162.90 379.85 h2.1 q1.9 -0.5 2.3 -3 h3.35 v18.75 h-3.85 v-12.3 h-3.9 z" fill="#000"/>
<rect x="255.3" y="251.0" width="38" height="38" fill="#fff" stroke="#000" stroke-width="3"/>
<text x="273.2" y="278.1" class="n" transform="translate(273.2 0) scale(1.07 1) translate(-273.2 0)">2</text>
<rect x="338.0" y="239.5" width="38" height="38" fill="#fff" stroke="#000" stroke-width="3"/>
<text x="355.9" y="266.6" class="n" transform="translate(355.9 0) scale(1.07 1) translate(-355.9 0)">3</text>
<rect x="410.5" y="294.8" width="38" height="38" fill="#fff" stroke="#000" stroke-width="3"/>
<text x="428.4" y="321.9" class="n" transform="translate(428.4 0) scale(1.07 1) translate(-428.4 0)">4</text>
<rect x="526.5" y="268.3" width="38" height="38" fill="#fff" stroke="#000" stroke-width="3"/>
<text x="544.4" y="295.4" class="n" transform="translate(544.4 0) scale(1.07 1) translate(-544.4 0)">5</text>
<rect x="592.7" y="288.8" width="38" height="38" fill="#fff" stroke="#000" stroke-width="3"/>
<text x="610.6" y="315.9" class="n" transform="translate(610.6 0) scale(1.07 1) translate(-610.6 0)">6</text>
<rect x="753.0" y="270.7" width="38" height="38" fill="#fff" stroke="#000" stroke-width="3"/>
<text x="770.9" y="297.8" class="n" transform="translate(770.9 0) scale(1.07 1) translate(-770.9 0)">7</text>
<rect x="49.0" y="570.8" width="38" height="38" fill="#fff" stroke="#000" stroke-width="3"/>
<text x="66.9" y="597.9" class="n" transform="translate(66.9 0) scale(1.07 1) translate(-66.9 0)">8</text>
<rect x="122.0" y="653.8" width="38" height="38" fill="#fff" stroke="#000" stroke-width="3"/>
<text x="139.9" y="680.9" class="n" transform="translate(139.9 0) scale(1.07 1) translate(-139.9 0)">9</text>
<rect x="163.0" y="728.9" width="38" height="38" fill="#fff" stroke="#000" stroke-width="3"/>
<path d="M169.20 740.25 h2.1 q1.9 -0.5 2.3 -3 h3.35 v18.75 h-3.85 v-12.3 h-3.9 z" fill="#000"/>
<text x="186.8" y="756.0" class="n" transform="translate(186.8 0) scale(1.07 1) translate(-186.8 0)">0</text>
<rect x="206.5" y="543.8" width="38" height="38" fill="#fff" stroke="#000" stroke-width="3"/>
<path d="M212.75 555.15 h2.1 q1.9 -0.5 2.3 -3 h3.35 v18.75 h-3.85 v-12.3 h-3.9 z" fill="#000"/>
<path d="M223.00 555.15 h2.1 q1.9 -0.5 2.3 -3 h3.35 v18.75 h-3.85 v-12.3 h-3.9 z" fill="#000"/>
<rect x="286.9" y="521.3" width="38" height="38" fill="#fff" stroke="#000" stroke-width="3"/>
<path d="M293.10 532.65 h2.1 q1.9 -0.5 2.3 -3 h3.35 v18.75 h-3.85 v-12.3 h-3.9 z" fill="#000"/>
<text x="310.7" y="548.4" class="n" transform="translate(310.7 0) scale(1.07 1) translate(-310.7 0)">2</text>
<rect x="478.9" y="517.1" width="38" height="38" fill="#fff" stroke="#000" stroke-width="3"/>
<path d="M485.10 528.45 h2.1 q1.9 -0.5 2.3 -3 h3.35 v18.75 h-3.85 v-12.3 h-3.9 z" fill="#000"/>
<text x="502.7" y="544.2" class="n" transform="translate(502.7 0) scale(1.07 1) translate(-502.7 0)">3</text>
<rect x="415.7" y="588.8" width="38" height="38" fill="#fff" stroke="#000" stroke-width="3"/>
<path d="M421.90 600.15 h2.1 q1.9 -0.5 2.3 -3 h3.35 v18.75 h-3.85 v-12.3 h-3.9 z" fill="#000"/>
<text x="439.5" y="615.9" class="n" transform="translate(439.5 0) scale(1.07 1) translate(-439.5 0)">4</text>
<rect x="522.7" y="512.8" width="38" height="38" fill="#fff" stroke="#000" stroke-width="3"/>
<path d="M528.90 524.15 h2.1 q1.9 -0.5 2.3 -3 h3.35 v18.75 h-3.85 v-12.3 h-3.9 z" fill="#000"/>
<text x="546.5" y="539.9" class="n" transform="translate(546.5 0) scale(1.07 1) translate(-546.5 0)">5</text>
<rect x="575.2" y="505.8" width="38" height="38" fill="#fff" stroke="#000" stroke-width="3"/>
<path d="M581.40 517.15 h2.1 q1.9 -0.5 2.3 -3 h3.35 v18.75 h-3.85 v-12.3 h-3.9 z" fill="#000"/>
<text x="599.0" y="532.9" class="n" transform="translate(599.0 0) scale(1.07 1) translate(-599.0 0)">6</text>
<rect x="734.5" y="619.0" width="38" height="38" fill="#fff" stroke="#000" stroke-width="3"/>
<path d="M740.70 630.35 h2.1 q1.9 -0.5 2.3 -3 h3.35 v18.75 h-3.85 v-12.3 h-3.9 z" fill="#000"/>
<text x="758.3" y="646.1" class="n" transform="translate(758.3 0) scale(1.07 1) translate(-758.3 0)">7</text>
<rect x="761.0" y="548.5" width="38" height="38" fill="#fff" stroke="#000" stroke-width="3"/>
<path d="M767.20 559.85 h2.1 q1.9 -0.5 2.3 -3 h3.35 v18.75 h-3.85 v-12.3 h-3.9 z" fill="#000"/>
<text x="784.8" y="575.6" class="n" transform="translate(784.8 0) scale(1.07 1) translate(-784.8 0)">8</text>
<rect x="837.5" y="515.0" width="38" height="38" fill="#fff" stroke="#000" stroke-width="3"/>
<path d="M843.70 526.35 h2.1 q1.9 -0.5 2.3 -3 h3.35 v18.75 h-3.85 v-12.3 h-3.9 z" fill="#000"/>
<text x="861.3" y="542.1" class="n" transform="translate(861.3 0) scale(1.07 1) translate(-861.3 0)">9</text>
<rect x="893.5" y="378.7" width="38" height="38" fill="#fff" stroke="#000" stroke-width="3"/>
<text x="904.3" y="405.8" class="n" transform="translate(904.3 0) scale(1.07 1) translate(-904.3 0)">2</text>
<text x="918.6" y="405.8" class="n" transform="translate(918.6 0) scale(1.07 1) translate(-918.6 0)">0</text>
<rect x="122.0" y="830.7" width="38" height="38" fill="#fff" stroke="#000" stroke-width="3"/>
<text x="132.8" y="857.8" class="n" transform="translate(132.8 0) scale(1.07 1) translate(-132.8 0)">2</text>
<path d="M139.75 842.05 h2.1 q1.9 -0.5 2.3 -3 h3.35 v18.75 h-3.85 v-12.3 h-3.9 z" fill="#000"/>
<rect x="305.8" y="766.3" width="38" height="38" fill="#fff" stroke="#000" stroke-width="3"/>
<text x="316.6" y="793.4" class="n" transform="translate(316.6 0) scale(1.07 1) translate(-316.6 0)">2</text>
<text x="330.9" y="793.4" class="n" transform="translate(330.9 0) scale(1.07 1) translate(-330.9 0)">2</text>
<rect x="373.2" y="663.3" width="38" height="38" fill="#fff" stroke="#000" stroke-width="3"/>
<text x="384.0" y="690.4" class="n" transform="translate(384.0 0) scale(1.07 1) translate(-384.0 0)">2</text>
<text x="398.3" y="690.4" class="n" transform="translate(398.3 0) scale(1.07 1) translate(-398.3 0)">3</text>
<rect x="463.0" y="700.0" width="38" height="38" fill="#fff" stroke="#000" stroke-width="3"/>
<text x="473.8" y="727.1" class="n" transform="translate(473.8 0) scale(1.07 1) translate(-473.8 0)">2</text>
<text x="488.1" y="727.1" class="n" transform="translate(488.1 0) scale(1.07 1) translate(-488.1 0)">4</text>
<rect x="677.8" y="674.1" width="38" height="38" fill="#fff" stroke="#000" stroke-width="3"/>
<text x="688.6" y="701.2" class="n" transform="translate(688.6 0) scale(1.07 1) translate(-688.6 0)">2</text>
<text x="702.9" y="701.2" class="n" transform="translate(702.9 0) scale(1.07 1) translate(-702.9 0)">5</text>
<rect x="741.0" y="732.0" width="38" height="38" fill="#fff" stroke="#000" stroke-width="3"/>
<text x="751.8" y="759.1" class="n" transform="translate(751.8 0) scale(1.07 1) translate(-751.8 0)">2</text>
<text x="766.1" y="759.1" class="n" transform="translate(766.1 0) scale(1.07 1) translate(-766.1 0)">6</text>
<rect x="476.3" y="842.1" width="38" height="38" fill="#fff" stroke="#000" stroke-width="3"/>
<text x="487.1" y="869.2" class="n" transform="translate(487.1 0) scale(1.07 1) translate(-487.1 0)">2</text>
<text x="501.4" y="869.2" class="n" transform="translate(501.4 0) scale(1.07 1) translate(-501.4 0)">7</text>
<rect x="633.1" y="785.5" width="38" height="38" fill="#fff" stroke="#000" stroke-width="3"/>
<text x="643.9" y="812.6" class="n" transform="translate(643.9 0) scale(1.07 1) translate(-643.9 0)">2</text>
<text x="658.2" y="812.6" class="n" transform="translate(658.2 0) scale(1.07 1) translate(-658.2 0)">8</text>
<rect x="684.3" y="874.7" width="38" height="38" fill="#fff" stroke="#000" stroke-width="3"/>
<text x="695.1" y="901.8" class="n" transform="translate(695.1 0) scale(1.07 1) translate(-695.1 0)">3</text>
<text x="709.4" y="901.8" class="n" transform="translate(709.4 0) scale(1.07 1) translate(-709.4 0)">0</text>
<rect x="518.8" y="958.1" width="38" height="38" fill="#fff" stroke="#000" stroke-width="3"/>
<text x="529.6" y="985.2" class="n" transform="translate(529.6 0) scale(1.07 1) translate(-529.6 0)">3</text>
<path d="M536.55 969.45 h2.1 q1.9 -0.5 2.3 -3 h3.35 v18.75 h-3.85 v-12.3 h-3.9 z" fill="#000"/>
<rect x="676.8" y="987.0" width="38" height="38" fill="#fff" stroke="#000" stroke-width="3"/>
<text x="687.6" y="1014.1" class="n" transform="translate(687.6 0) scale(1.07 1) translate(-687.6 0)">3</text>
<text x="701.9" y="1014.1" class="n" transform="translate(701.9 0) scale(1.07 1) translate(-701.9 0)">2</text>
<rect x="462.7" y="1022.2" width="38" height="38" fill="#fff" stroke="#000" stroke-width="3"/>
<text x="473.5" y="1049.3" class="n" transform="translate(473.5 0) scale(1.07 1) translate(-473.5 0)">3</text>
<text x="487.8" y="1049.3" class="n" transform="translate(487.8 0) scale(1.07 1) translate(-487.8 0)">3</text>
<rect x="419.5" y="1137.3" width="38" height="38" fill="#fff" stroke="#000" stroke-width="3"/>
<text x="430.3" y="1164.4" class="n" transform="translate(430.3 0) scale(1.07 1) translate(-430.3 0)">3</text>
<text x="444.6" y="1164.4" class="n" transform="translate(444.6 0) scale(1.07 1) translate(-444.6 0)">4</text>
<rect x="547.0" y="1006.5" width="38" height="38" fill="#fff" stroke="#000" stroke-width="3"/>
<text x="557.8" y="1033.6" class="n" transform="translate(557.8 0) scale(1.07 1) translate(-557.8 0)">3</text>
<text x="572.1" y="1033.6" class="n" transform="translate(572.1 0) scale(1.07 1) translate(-572.1 0)">5</text>
<rect x="612.8" y="1154.7" width="38" height="38" fill="#fff" stroke="#000" stroke-width="3"/>
<text x="623.6" y="1181.8" class="n" transform="translate(623.6 0) scale(1.07 1) translate(-623.6 0)">3</text>
<text x="637.9" y="1181.8" class="n" transform="translate(637.9 0) scale(1.07 1) translate(-637.9 0)">6</text>
<rect x="727.0" y="956.3" width="38" height="38" fill="#fff" stroke="#000" stroke-width="3"/>
<text x="737.8" y="983.4" class="n" transform="translate(737.8 0) scale(1.07 1) translate(-737.8 0)">3</text>
<text x="752.1" y="983.4" class="n" transform="translate(752.1 0) scale(1.07 1) translate(-752.1 0)">7</text>
<rect x="819.8" y="1045.8" width="38" height="38" fill="#fff" stroke="#000" stroke-width="3"/>
<text x="830.6" y="1072.9" class="n" transform="translate(830.6 0) scale(1.07 1) translate(-830.6 0)">3</text>
<text x="844.9" y="1072.9" class="n" transform="translate(844.9 0) scale(1.07 1) translate(-844.9 0)">8</text>
<rect x="664.5" y="818.5" width="38" height="38" fill="#fff" stroke="#000" stroke-width="3"/>
<text x="675.3" y="845.6" class="n" transform="translate(675.3 0) scale(1.07 1) translate(-675.3 0)">2</text>
<text x="689.6" y="845.6" class="n" transform="translate(689.6 0) scale(1.07 1) translate(-689.6 0)">9</text>
<ellipse cx="273.1" cy="345.3" rx="3.4" ry="3.4" fill="none" stroke="#111" stroke-width="1.77"/>
<ellipse cx="273.1" cy="345.3" rx="1.5" ry="1.5" fill="none" stroke="#111" stroke-width="1.3"/>
<path d="M269.9 343.2 L264.5 343.8 L266.0 345.8 L269.9 346.6" fill="none" stroke="#111" stroke-width="1.53" />
<ellipse cx="356.1" cy="332.3" rx="3.4" ry="3.4" fill="none" stroke="#111" stroke-width="1.77"/>
<ellipse cx="356.1" cy="332.3" rx="1.5" ry="1.5" fill="none" stroke="#111" stroke-width="1.3"/>
<path d="M352.9 330.2 L347.5 330.8 L349.0 332.8 L352.9 333.6" fill="none" stroke="#111" stroke-width="1.53" />
<rect x="432.5" y="397.2" width="9.0" height="6.0" rx="1.8" fill="#111" transform="rotate(0 437.0 400.2)"/>
<line x1="434.0" y1="399.9" x2="440.0" y2="399.9" stroke="#999" stroke-width="1.2"/>
<rect x="621.0" y="480.8" width="9.0" height="6.0" rx="1.8" fill="#111" transform="rotate(0 625.5 483.8)"/>
<line x1="622.5" y1="483.5" x2="628.5" y2="483.5" stroke="#999" stroke-width="1.2"/>
<rect x="424.6" y="646.7" width="9.5" height="7.0" rx="1.8" fill="#111" transform="rotate(15 429.3 650.2)"/>
<line x1="426.1" y1="649.9" x2="432.6" y2="649.9" stroke="#999" stroke-width="1.2"/>
<rect x="701.5" y="639.5" width="9.0" height="7.0" rx="1.8" fill="#111" transform="rotate(12 706.0 643.0)"/>
<line x1="703.0" y1="642.7" x2="709.0" y2="642.7" stroke="#999" stroke-width="1.2"/>
<rect x="480.4" y="784.5" width="10.0" height="6.5" rx="1.8" fill="#111" transform="rotate(22 485.4 787.8)"/>
<line x1="481.9" y1="787.5" x2="488.9" y2="787.5" stroke="#999" stroke-width="1.2"/>
<rect x="187.8" y="663.2" width="5.5" height="7.5" rx="1.8" fill="#111" transform="rotate(30 190.6 667.0)"/>
<line x1="189.3" y1="666.7" x2="191.8" y2="666.7" stroke="#999" stroke-width="1.2"/>
<ellipse cx="363.8" cy="538.6" rx="2.6" ry="2.2" fill="#111" stroke="#111" stroke-width="1.2"/>
<ellipse cx="245.0" cy="740.8" rx="3.0" ry="3.0" fill="none" stroke="#111" stroke-width="1.65"/>
<line x1="243.0" y1="737.5" x2="241.8" y2="739.0" stroke="#111" stroke-width="1.65"/>
<ellipse cx="677.5" cy="736.0" rx="2.4" ry="2.6" fill="#111" stroke="#111" stroke-width="1.2"/>
<line x1="671.5" y1="734.3" x2="676.0" y2="735.5" stroke="#111" stroke-width="2.83"/>
<rect x="552.8" y="843.8" width="7.5" height="5.5" rx="1.8" fill="#111" transform="rotate(-15 556.5 846.5)"/>
<line x1="554.2" y1="846.2" x2="558.8" y2="846.2" stroke="#999" stroke-width="1.2"/>
<rect x="550.9" y="874.2" width="7.0" height="6.0" rx="1.8" fill="#111" transform="rotate(0 554.4 877.2)"/>
<line x1="552.4" y1="876.9" x2="556.4" y2="876.9" stroke="#999" stroke-width="1.2"/>
<rect x="605.6" y="833.5" width="7.5" height="5.5" rx="1.8" fill="#111" transform="rotate(-15 609.4 836.2)"/>
<line x1="607.1" y1="835.9" x2="611.6" y2="835.9" stroke="#999" stroke-width="1.2"/>
</svg>
</body></html>
